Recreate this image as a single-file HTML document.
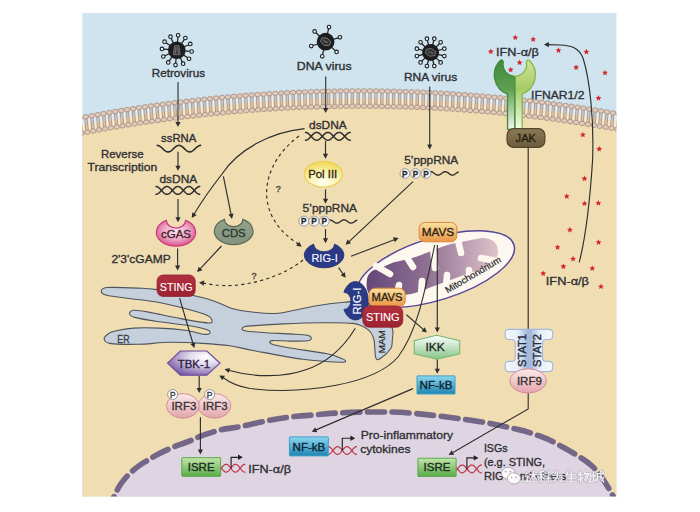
<!DOCTYPE html>
<html><head><meta charset="utf-8"><style>
html,body{margin:0;padding:0;background:#fff;}
svg{display:block;font-family:"Liberation Sans", sans-serif;}
</style></head><body>
<svg width="700" height="512" viewBox="0 0 700 512" font-family="Liberation Sans, sans-serif">
<defs>
<radialGradient id="gCgas" cx="0.5" cy="0.42" r="0.62"><stop offset="0" stop-color="#f9e6ee"/><stop offset="0.55" stop-color="#eda3c2"/><stop offset="1" stop-color="#d4447f"/></radialGradient>
<linearGradient id="gCds" x1="0" y1="0" x2="0" y2="1"><stop offset="0" stop-color="#92a28c"/><stop offset="1" stop-color="#83937e"/></linearGradient>
<radialGradient id="gPol" cx="0.5" cy="0.82" r="0.82"><stop offset="0" stop-color="#fffef4"/><stop offset="0.5" stop-color="#fcf2ae"/><stop offset="1" stop-color="#f0d54c"/></radialGradient>
<linearGradient id="gMavs" x1="0" y1="0" x2="0" y2="1"><stop offset="0" stop-color="#fbe3a0"/><stop offset="1" stop-color="#eb9444"/></linearGradient>
<linearGradient id="gSting" x1="0" y1="0" x2="0" y2="1"><stop offset="0" stop-color="#b3303f"/><stop offset="1" stop-color="#9c2332"/></linearGradient>
<radialGradient id="gTbk" cx="0.72" cy="0.25" r="0.85"><stop offset="0" stop-color="#ffffff"/><stop offset="0.35" stop-color="#e4dcef"/><stop offset="1" stop-color="#7253a3"/></radialGradient>
<linearGradient id="gIrf" x1="0" y1="0" x2="0" y2="1"><stop offset="0" stop-color="#fbeaea"/><stop offset="1" stop-color="#e3a4ac"/></linearGradient>
<linearGradient id="gIsre" x1="0" y1="0" x2="0" y2="1"><stop offset="0" stop-color="#c2e6a8"/><stop offset="1" stop-color="#5aac4a"/></linearGradient>
<linearGradient id="gNfkb" x1="0" y1="0" x2="0" y2="1"><stop offset="0" stop-color="#8cd6f2"/><stop offset="1" stop-color="#1f86b2"/></linearGradient>
<linearGradient id="gIkk" x1="0" y1="0" x2="0" y2="1"><stop offset="0" stop-color="#ffffff"/><stop offset="1" stop-color="#86c488"/></linearGradient>
<linearGradient id="gStat" x1="0" y1="0" x2="1" y2="0"><stop offset="0" stop-color="#f4f8fd"/><stop offset="0.5" stop-color="#9db5da"/><stop offset="1" stop-color="#f4f8fd"/></linearGradient>
<linearGradient id="gJak" x1="0" y1="0" x2="0" y2="1"><stop offset="0" stop-color="#8b7a55"/><stop offset="1" stop-color="#6c5c3c"/></linearGradient>
<linearGradient id="gRecL" x1="0" y1="0" x2="1" y2="1"><stop offset="0" stop-color="#3f8a3c"/><stop offset="1" stop-color="#7eb46a"/></linearGradient>
<linearGradient id="gRecR" x1="0" y1="0" x2="1" y2="1"><stop offset="0" stop-color="#d6e89a"/><stop offset="1" stop-color="#9cc45c"/></linearGradient>
<linearGradient id="gStemL" x1="0" y1="0" x2="0" y2="1"><stop offset="0" stop-color="#4e9648"/><stop offset="1" stop-color="#ffffff"/></linearGradient>
<linearGradient id="gStemR" x1="0" y1="0" x2="0" y2="1"><stop offset="0" stop-color="#a8cc70"/><stop offset="1" stop-color="#ffffff"/></linearGradient>
<linearGradient id="gCris" x1="0" y1="0" x2="1" y2="0"><stop offset="0" stop-color="#654878"/><stop offset="0.45" stop-color="#8f6f92"/><stop offset="1" stop-color="#e0c4cc"/></linearGradient>
</defs>
<rect x="0" y="0" width="700" height="512" fill="#ffffff"/>
<rect x="82.3" y="13" width="534.1" height="483.4" fill="#cfe4ee"/>
<path d="M82.3,496.4 L82.3,125.09 L92.38,123.2 L102.45,121.37 L112.53,119.62 L122.61,117.93 L132.69,116.32 L142.76,114.77 L152.84,113.3 L162.92,111.89 L173,110.56 L183.07,109.29 L193.15,108.1 L203.23,106.97 L213.31,105.92 L223.38,104.94 L233.46,104.02 L243.54,103.18 L253.62,102.4 L263.69,101.7 L273.77,101.06 L283.85,100.5 L293.92,100.01 L304,99.58 L314.08,99.23 L324.16,98.94 L334.23,98.73 L344.31,98.58 L354.39,98.51 L364.47,98.51 L374.54,98.57 L384.62,98.71 L394.7,98.92 L404.78,99.19 L414.85,99.54 L424.93,99.95 L435.01,100.44 L445.08,101 L455.16,101.62 L465.24,102.32 L475.32,103.09 L485.39,103.92 L495.47,104.83 L505.55,105.81 L515.63,106.85 L525.7,107.97 L535.78,109.15 L545.86,110.41 L555.94,111.74 L566.01,113.13 L576.09,114.6 L586.17,116.14 L596.25,117.75 L606.32,119.42 L616.4,121.17 L616.4,496.4 Z" fill="#f0ddb2"/>
<clipPath id="frameClip"><rect x="82.3" y="13" width="534.1" height="483.4"/></clipPath>
<g clip-path="url(#frameClip)">
<line x1="78.79" y1="119.53" x2="80.09" y2="131.86" stroke="#a88f82" stroke-width="0.85"/><line x1="81.07" y1="119.29" x2="82.37" y2="131.62" stroke="#a88f82" stroke-width="0.85"/><line x1="79.93" y1="119.41" x2="81.23" y2="131.74" stroke="#cdb3a8" stroke-opacity="0.7" stroke-width="1.5"/><line x1="82.9" y1="119.29" x2="84.16" y2="131.23" stroke="#ffffff" stroke-opacity="0.45" stroke-width="1.3"/><line x1="84.71" y1="118.39" x2="85.98" y2="130.73" stroke="#a88f82" stroke-width="0.85"/><line x1="86.99" y1="118.15" x2="88.27" y2="130.49" stroke="#a88f82" stroke-width="0.85"/><line x1="85.85" y1="118.27" x2="87.12" y2="130.61" stroke="#cdb3a8" stroke-opacity="0.7" stroke-width="1.5"/><line x1="88.83" y1="118.17" x2="90.06" y2="130.1" stroke="#ffffff" stroke-opacity="0.45" stroke-width="1.3"/><line x1="90.63" y1="117.28" x2="91.88" y2="129.62" stroke="#a88f82" stroke-width="0.85"/><line x1="92.92" y1="117.05" x2="94.16" y2="129.38" stroke="#a88f82" stroke-width="0.85"/><line x1="91.77" y1="117.16" x2="93.02" y2="129.5" stroke="#cdb3a8" stroke-opacity="0.7" stroke-width="1.5"/><line x1="94.75" y1="117.06" x2="95.95" y2="129" stroke="#ffffff" stroke-opacity="0.45" stroke-width="1.3"/><line x1="96.55" y1="116.19" x2="97.77" y2="128.53" stroke="#a88f82" stroke-width="0.85"/><line x1="98.84" y1="115.96" x2="100.06" y2="128.3" stroke="#a88f82" stroke-width="0.85"/><line x1="97.69" y1="116.08" x2="98.91" y2="128.42" stroke="#cdb3a8" stroke-opacity="0.7" stroke-width="1.5"/><line x1="100.67" y1="115.98" x2="101.85" y2="127.93" stroke="#ffffff" stroke-opacity="0.45" stroke-width="1.3"/><line x1="102.47" y1="115.13" x2="103.66" y2="127.47" stroke="#a88f82" stroke-width="0.85"/><line x1="104.76" y1="114.91" x2="105.95" y2="127.25" stroke="#a88f82" stroke-width="0.85"/><line x1="103.61" y1="115.02" x2="104.81" y2="127.36" stroke="#cdb3a8" stroke-opacity="0.7" stroke-width="1.5"/><line x1="106.59" y1="114.93" x2="107.75" y2="126.87" stroke="#ffffff" stroke-opacity="0.45" stroke-width="1.3"/><line x1="108.39" y1="114.09" x2="109.56" y2="126.43" stroke="#a88f82" stroke-width="0.85"/><line x1="110.68" y1="113.87" x2="111.85" y2="126.22" stroke="#a88f82" stroke-width="0.85"/><line x1="109.54" y1="113.98" x2="110.7" y2="126.32" stroke="#cdb3a8" stroke-opacity="0.7" stroke-width="1.5"/><line x1="112.51" y1="113.9" x2="113.64" y2="125.85" stroke="#ffffff" stroke-opacity="0.45" stroke-width="1.3"/><line x1="114.31" y1="113.07" x2="115.45" y2="125.42" stroke="#a88f82" stroke-width="0.85"/><line x1="116.6" y1="112.86" x2="117.74" y2="125.21" stroke="#a88f82" stroke-width="0.85"/><line x1="115.46" y1="112.97" x2="116.6" y2="125.31" stroke="#cdb3a8" stroke-opacity="0.7" stroke-width="1.5"/><line x1="118.43" y1="112.89" x2="119.54" y2="124.84" stroke="#ffffff" stroke-opacity="0.45" stroke-width="1.3"/><line x1="120.23" y1="112.08" x2="121.35" y2="124.43" stroke="#a88f82" stroke-width="0.85"/><line x1="122.52" y1="111.87" x2="123.64" y2="124.22" stroke="#a88f82" stroke-width="0.85"/><line x1="121.38" y1="111.98" x2="122.49" y2="124.33" stroke="#cdb3a8" stroke-opacity="0.7" stroke-width="1.5"/><line x1="124.35" y1="111.91" x2="125.43" y2="123.86" stroke="#ffffff" stroke-opacity="0.45" stroke-width="1.3"/><line x1="126.15" y1="111.11" x2="127.24" y2="123.47" stroke="#a88f82" stroke-width="0.85"/><line x1="128.45" y1="110.91" x2="129.53" y2="123.26" stroke="#a88f82" stroke-width="0.85"/><line x1="127.3" y1="111.01" x2="128.39" y2="123.37" stroke="#cdb3a8" stroke-opacity="0.7" stroke-width="1.5"/><line x1="130.28" y1="110.95" x2="131.33" y2="122.91" stroke="#ffffff" stroke-opacity="0.45" stroke-width="1.3"/><line x1="132.08" y1="110.17" x2="133.13" y2="122.53" stroke="#a88f82" stroke-width="0.85"/><line x1="134.37" y1="109.97" x2="135.43" y2="122.33" stroke="#a88f82" stroke-width="0.85"/><line x1="133.22" y1="110.07" x2="134.28" y2="122.43" stroke="#cdb3a8" stroke-opacity="0.7" stroke-width="1.5"/><line x1="136.2" y1="110.02" x2="137.22" y2="121.97" stroke="#ffffff" stroke-opacity="0.45" stroke-width="1.3"/><line x1="138" y1="109.25" x2="139.03" y2="121.61" stroke="#a88f82" stroke-width="0.85"/><line x1="140.29" y1="109.06" x2="141.32" y2="121.42" stroke="#a88f82" stroke-width="0.85"/><line x1="139.14" y1="109.16" x2="140.17" y2="121.51" stroke="#cdb3a8" stroke-opacity="0.7" stroke-width="1.5"/><line x1="142.12" y1="109.11" x2="143.12" y2="121.07" stroke="#ffffff" stroke-opacity="0.45" stroke-width="1.3"/><line x1="143.92" y1="108.36" x2="144.92" y2="120.72" stroke="#a88f82" stroke-width="0.85"/><line x1="146.21" y1="108.17" x2="147.21" y2="120.53" stroke="#a88f82" stroke-width="0.85"/><line x1="145.06" y1="108.27" x2="146.07" y2="120.62" stroke="#cdb3a8" stroke-opacity="0.7" stroke-width="1.5"/><line x1="148.04" y1="108.22" x2="149.01" y2="120.18" stroke="#ffffff" stroke-opacity="0.45" stroke-width="1.3"/><line x1="149.84" y1="107.49" x2="150.82" y2="119.85" stroke="#a88f82" stroke-width="0.85"/><line x1="152.13" y1="107.31" x2="153.11" y2="119.67" stroke="#a88f82" stroke-width="0.85"/><line x1="150.99" y1="107.4" x2="151.96" y2="119.76" stroke="#cdb3a8" stroke-opacity="0.7" stroke-width="1.5"/><line x1="153.96" y1="107.36" x2="154.91" y2="119.33" stroke="#ffffff" stroke-opacity="0.45" stroke-width="1.3"/><line x1="155.76" y1="106.64" x2="156.71" y2="119.01" stroke="#a88f82" stroke-width="0.85"/><line x1="158.05" y1="106.47" x2="159" y2="118.83" stroke="#a88f82" stroke-width="0.85"/><line x1="156.91" y1="106.55" x2="157.86" y2="118.92" stroke="#cdb3a8" stroke-opacity="0.7" stroke-width="1.5"/><line x1="159.88" y1="106.53" x2="160.8" y2="118.49" stroke="#ffffff" stroke-opacity="0.45" stroke-width="1.3"/><line x1="161.68" y1="105.82" x2="162.6" y2="118.19" stroke="#a88f82" stroke-width="0.85"/><line x1="163.97" y1="105.65" x2="164.9" y2="118.02" stroke="#a88f82" stroke-width="0.85"/><line x1="162.83" y1="105.74" x2="163.75" y2="118.1" stroke="#cdb3a8" stroke-opacity="0.7" stroke-width="1.5"/><line x1="165.8" y1="105.71" x2="166.7" y2="117.68" stroke="#ffffff" stroke-opacity="0.45" stroke-width="1.3"/><line x1="167.6" y1="105.02" x2="168.5" y2="117.39" stroke="#a88f82" stroke-width="0.85"/><line x1="169.9" y1="104.86" x2="170.79" y2="117.23" stroke="#a88f82" stroke-width="0.85"/><line x1="168.75" y1="104.94" x2="169.64" y2="117.31" stroke="#cdb3a8" stroke-opacity="0.7" stroke-width="1.5"/><line x1="171.73" y1="104.93" x2="172.59" y2="116.89" stroke="#ffffff" stroke-opacity="0.45" stroke-width="1.3"/><line x1="173.52" y1="104.25" x2="174.39" y2="116.62" stroke="#a88f82" stroke-width="0.85"/><line x1="175.82" y1="104.09" x2="176.68" y2="116.46" stroke="#a88f82" stroke-width="0.85"/><line x1="174.67" y1="104.17" x2="175.54" y2="116.54" stroke="#cdb3a8" stroke-opacity="0.7" stroke-width="1.5"/><line x1="177.65" y1="104.16" x2="178.49" y2="116.13" stroke="#ffffff" stroke-opacity="0.45" stroke-width="1.3"/><line x1="179.44" y1="103.5" x2="180.28" y2="115.87" stroke="#a88f82" stroke-width="0.85"/><line x1="181.74" y1="103.35" x2="182.58" y2="115.72" stroke="#a88f82" stroke-width="0.85"/><line x1="180.59" y1="103.42" x2="181.43" y2="115.8" stroke="#cdb3a8" stroke-opacity="0.7" stroke-width="1.5"/><line x1="183.57" y1="103.42" x2="184.38" y2="115.39" stroke="#ffffff" stroke-opacity="0.45" stroke-width="1.3"/><line x1="185.36" y1="102.78" x2="186.18" y2="115.15" stroke="#a88f82" stroke-width="0.85"/><line x1="187.66" y1="102.63" x2="188.47" y2="115" stroke="#a88f82" stroke-width="0.85"/><line x1="186.51" y1="102.7" x2="187.32" y2="115.07" stroke="#cdb3a8" stroke-opacity="0.7" stroke-width="1.5"/><line x1="189.49" y1="102.71" x2="190.28" y2="114.68" stroke="#ffffff" stroke-opacity="0.45" stroke-width="1.3"/><line x1="191.29" y1="102.08" x2="192.07" y2="114.45" stroke="#a88f82" stroke-width="0.85"/><line x1="193.58" y1="101.93" x2="194.37" y2="114.31" stroke="#a88f82" stroke-width="0.85"/><line x1="192.43" y1="102" x2="193.22" y2="114.38" stroke="#cdb3a8" stroke-opacity="0.7" stroke-width="1.5"/><line x1="195.41" y1="102.02" x2="196.17" y2="113.99" stroke="#ffffff" stroke-opacity="0.45" stroke-width="1.3"/><line x1="197.21" y1="101.4" x2="197.96" y2="113.78" stroke="#a88f82" stroke-width="0.85"/><line x1="199.5" y1="101.26" x2="200.26" y2="113.64" stroke="#a88f82" stroke-width="0.85"/><line x1="198.35" y1="101.33" x2="199.11" y2="113.71" stroke="#cdb3a8" stroke-opacity="0.7" stroke-width="1.5"/><line x1="201.33" y1="101.35" x2="202.06" y2="113.33" stroke="#ffffff" stroke-opacity="0.45" stroke-width="1.3"/><line x1="203.13" y1="100.75" x2="203.86" y2="113.13" stroke="#a88f82" stroke-width="0.85"/><line x1="205.42" y1="100.61" x2="206.15" y2="112.99" stroke="#a88f82" stroke-width="0.85"/><line x1="204.28" y1="100.68" x2="205.01" y2="113.06" stroke="#cdb3a8" stroke-opacity="0.7" stroke-width="1.5"/><line x1="207.25" y1="100.71" x2="207.96" y2="112.68" stroke="#ffffff" stroke-opacity="0.45" stroke-width="1.3"/><line x1="209.05" y1="100.12" x2="209.75" y2="112.5" stroke="#a88f82" stroke-width="0.85"/><line x1="211.34" y1="99.99" x2="212.05" y2="112.37" stroke="#a88f82" stroke-width="0.85"/><line x1="210.2" y1="100.06" x2="210.9" y2="112.44" stroke="#cdb3a8" stroke-opacity="0.7" stroke-width="1.5"/><line x1="213.17" y1="100.09" x2="213.85" y2="112.07" stroke="#ffffff" stroke-opacity="0.45" stroke-width="1.3"/><line x1="214.97" y1="99.52" x2="215.64" y2="111.9" stroke="#a88f82" stroke-width="0.85"/><line x1="217.27" y1="99.39" x2="217.94" y2="111.77" stroke="#a88f82" stroke-width="0.85"/><line x1="216.12" y1="99.45" x2="216.79" y2="111.84" stroke="#cdb3a8" stroke-opacity="0.7" stroke-width="1.5"/><line x1="219.09" y1="99.49" x2="219.75" y2="111.47" stroke="#ffffff" stroke-opacity="0.45" stroke-width="1.3"/><line x1="220.89" y1="98.94" x2="221.54" y2="111.32" stroke="#a88f82" stroke-width="0.85"/><line x1="223.19" y1="98.82" x2="223.83" y2="111.2" stroke="#a88f82" stroke-width="0.85"/><line x1="222.04" y1="98.88" x2="222.69" y2="111.26" stroke="#cdb3a8" stroke-opacity="0.7" stroke-width="1.5"/><line x1="225.02" y1="98.92" x2="225.64" y2="110.91" stroke="#ffffff" stroke-opacity="0.45" stroke-width="1.3"/><line x1="226.81" y1="98.38" x2="227.43" y2="110.77" stroke="#a88f82" stroke-width="0.85"/><line x1="229.11" y1="98.27" x2="229.73" y2="110.65" stroke="#a88f82" stroke-width="0.85"/><line x1="227.96" y1="98.33" x2="228.58" y2="110.71" stroke="#cdb3a8" stroke-opacity="0.7" stroke-width="1.5"/><line x1="230.94" y1="98.38" x2="231.54" y2="110.36" stroke="#ffffff" stroke-opacity="0.45" stroke-width="1.3"/><line x1="232.73" y1="97.85" x2="233.32" y2="110.24" stroke="#a88f82" stroke-width="0.85"/><line x1="235.03" y1="97.74" x2="235.62" y2="110.13" stroke="#a88f82" stroke-width="0.85"/><line x1="233.88" y1="97.8" x2="234.47" y2="110.18" stroke="#cdb3a8" stroke-opacity="0.7" stroke-width="1.5"/><line x1="236.86" y1="97.85" x2="237.43" y2="109.84" stroke="#ffffff" stroke-opacity="0.45" stroke-width="1.3"/><line x1="238.65" y1="97.35" x2="239.22" y2="109.73" stroke="#a88f82" stroke-width="0.85"/><line x1="240.95" y1="97.24" x2="241.52" y2="109.63" stroke="#a88f82" stroke-width="0.85"/><line x1="239.8" y1="97.29" x2="240.37" y2="109.68" stroke="#cdb3a8" stroke-opacity="0.7" stroke-width="1.5"/><line x1="242.78" y1="97.36" x2="243.32" y2="109.34" stroke="#ffffff" stroke-opacity="0.45" stroke-width="1.3"/><line x1="244.57" y1="96.86" x2="245.11" y2="109.25" stroke="#a88f82" stroke-width="0.85"/><line x1="246.87" y1="96.76" x2="247.41" y2="109.15" stroke="#a88f82" stroke-width="0.85"/><line x1="245.72" y1="96.81" x2="246.26" y2="109.2" stroke="#cdb3a8" stroke-opacity="0.7" stroke-width="1.5"/><line x1="248.7" y1="96.88" x2="249.22" y2="108.87" stroke="#ffffff" stroke-opacity="0.45" stroke-width="1.3"/><line x1="250.5" y1="96.4" x2="251" y2="108.79" stroke="#a88f82" stroke-width="0.85"/><line x1="252.79" y1="96.31" x2="253.3" y2="108.7" stroke="#a88f82" stroke-width="0.85"/><line x1="251.64" y1="96.36" x2="252.15" y2="108.75" stroke="#cdb3a8" stroke-opacity="0.7" stroke-width="1.5"/><line x1="254.62" y1="96.44" x2="255.11" y2="108.43" stroke="#ffffff" stroke-opacity="0.45" stroke-width="1.3"/><line x1="256.42" y1="95.97" x2="256.9" y2="108.36" stroke="#a88f82" stroke-width="0.85"/><line x1="258.71" y1="95.88" x2="259.2" y2="108.27" stroke="#a88f82" stroke-width="0.85"/><line x1="257.57" y1="95.93" x2="258.05" y2="108.32" stroke="#cdb3a8" stroke-opacity="0.7" stroke-width="1.5"/><line x1="260.54" y1="96.01" x2="261.01" y2="108" stroke="#ffffff" stroke-opacity="0.45" stroke-width="1.3"/><line x1="262.34" y1="95.56" x2="262.79" y2="107.95" stroke="#a88f82" stroke-width="0.85"/><line x1="264.64" y1="95.48" x2="265.09" y2="107.87" stroke="#a88f82" stroke-width="0.85"/><line x1="263.49" y1="95.52" x2="263.94" y2="107.91" stroke="#cdb3a8" stroke-opacity="0.7" stroke-width="1.5"/><line x1="266.46" y1="95.61" x2="266.9" y2="107.6" stroke="#ffffff" stroke-opacity="0.45" stroke-width="1.3"/><line x1="268.26" y1="95.18" x2="268.68" y2="107.57" stroke="#a88f82" stroke-width="0.85"/><line x1="270.56" y1="95.1" x2="270.98" y2="107.49" stroke="#a88f82" stroke-width="0.85"/><line x1="269.41" y1="95.14" x2="269.83" y2="107.53" stroke="#cdb3a8" stroke-opacity="0.7" stroke-width="1.5"/><line x1="272.38" y1="95.23" x2="272.79" y2="107.23" stroke="#ffffff" stroke-opacity="0.45" stroke-width="1.3"/><line x1="274.18" y1="94.81" x2="274.58" y2="107.21" stroke="#a88f82" stroke-width="0.85"/><line x1="276.48" y1="94.74" x2="276.88" y2="107.13" stroke="#a88f82" stroke-width="0.85"/><line x1="275.33" y1="94.78" x2="275.73" y2="107.17" stroke="#cdb3a8" stroke-opacity="0.7" stroke-width="1.5"/><line x1="278.3" y1="94.88" x2="278.69" y2="106.88" stroke="#ffffff" stroke-opacity="0.45" stroke-width="1.3"/><line x1="280.1" y1="94.48" x2="280.47" y2="106.87" stroke="#a88f82" stroke-width="0.85"/><line x1="282.4" y1="94.41" x2="282.77" y2="106.8" stroke="#a88f82" stroke-width="0.85"/><line x1="281.25" y1="94.44" x2="281.62" y2="106.84" stroke="#cdb3a8" stroke-opacity="0.7" stroke-width="1.5"/><line x1="284.22" y1="94.55" x2="284.58" y2="106.55" stroke="#ffffff" stroke-opacity="0.45" stroke-width="1.3"/><line x1="286.02" y1="94.16" x2="286.36" y2="106.56" stroke="#a88f82" stroke-width="0.85"/><line x1="288.32" y1="94.1" x2="288.66" y2="106.5" stroke="#a88f82" stroke-width="0.85"/><line x1="287.17" y1="94.13" x2="287.51" y2="106.53" stroke="#cdb3a8" stroke-opacity="0.7" stroke-width="1.5"/><line x1="290.14" y1="94.25" x2="290.48" y2="106.25" stroke="#ffffff" stroke-opacity="0.45" stroke-width="1.3"/><line x1="291.94" y1="93.88" x2="292.26" y2="106.27" stroke="#a88f82" stroke-width="0.85"/><line x1="294.24" y1="93.82" x2="294.56" y2="106.21" stroke="#a88f82" stroke-width="0.85"/><line x1="293.09" y1="93.85" x2="293.41" y2="106.24" stroke="#cdb3a8" stroke-opacity="0.7" stroke-width="1.5"/><line x1="296.07" y1="93.97" x2="296.37" y2="105.97" stroke="#ffffff" stroke-opacity="0.45" stroke-width="1.3"/><line x1="297.86" y1="93.61" x2="298.15" y2="106.01" stroke="#a88f82" stroke-width="0.85"/><line x1="300.16" y1="93.56" x2="300.45" y2="105.96" stroke="#a88f82" stroke-width="0.85"/><line x1="299.01" y1="93.59" x2="299.3" y2="105.98" stroke="#cdb3a8" stroke-opacity="0.7" stroke-width="1.5"/><line x1="301.99" y1="93.72" x2="302.26" y2="105.71" stroke="#ffffff" stroke-opacity="0.45" stroke-width="1.3"/><line x1="303.78" y1="93.37" x2="304.04" y2="105.77" stroke="#a88f82" stroke-width="0.85"/><line x1="306.08" y1="93.32" x2="306.34" y2="105.72" stroke="#a88f82" stroke-width="0.85"/><line x1="304.93" y1="93.35" x2="305.19" y2="105.75" stroke="#cdb3a8" stroke-opacity="0.7" stroke-width="1.5"/><line x1="307.91" y1="93.49" x2="308.16" y2="105.48" stroke="#ffffff" stroke-opacity="0.45" stroke-width="1.3"/><line x1="309.7" y1="93.16" x2="309.94" y2="105.55" stroke="#a88f82" stroke-width="0.85"/><line x1="312" y1="93.11" x2="312.24" y2="105.51" stroke="#a88f82" stroke-width="0.85"/><line x1="310.85" y1="93.13" x2="311.09" y2="105.53" stroke="#cdb3a8" stroke-opacity="0.7" stroke-width="1.5"/><line x1="313.83" y1="93.28" x2="314.05" y2="105.28" stroke="#ffffff" stroke-opacity="0.45" stroke-width="1.3"/><line x1="315.63" y1="92.96" x2="315.83" y2="105.36" stroke="#a88f82" stroke-width="0.85"/><line x1="317.93" y1="92.93" x2="318.13" y2="105.33" stroke="#a88f82" stroke-width="0.85"/><line x1="316.78" y1="92.95" x2="316.98" y2="105.34" stroke="#cdb3a8" stroke-opacity="0.7" stroke-width="1.5"/><line x1="319.75" y1="93.1" x2="319.95" y2="105.1" stroke="#ffffff" stroke-opacity="0.45" stroke-width="1.3"/><line x1="321.55" y1="92.8" x2="321.72" y2="105.2" stroke="#a88f82" stroke-width="0.85"/><line x1="323.85" y1="92.76" x2="324.02" y2="105.16" stroke="#a88f82" stroke-width="0.85"/><line x1="322.7" y1="92.78" x2="322.87" y2="105.18" stroke="#cdb3a8" stroke-opacity="0.7" stroke-width="1.5"/><line x1="325.67" y1="92.94" x2="325.84" y2="104.94" stroke="#ffffff" stroke-opacity="0.45" stroke-width="1.3"/><line x1="327.47" y1="92.65" x2="327.62" y2="105.05" stroke="#a88f82" stroke-width="0.85"/><line x1="329.77" y1="92.63" x2="329.92" y2="105.03" stroke="#a88f82" stroke-width="0.85"/><line x1="328.62" y1="92.64" x2="328.77" y2="105.04" stroke="#cdb3a8" stroke-opacity="0.7" stroke-width="1.5"/><line x1="331.59" y1="92.8" x2="331.73" y2="104.8" stroke="#ffffff" stroke-opacity="0.45" stroke-width="1.3"/><line x1="333.39" y1="92.54" x2="333.51" y2="104.93" stroke="#a88f82" stroke-width="0.85"/><line x1="335.69" y1="92.51" x2="335.81" y2="104.91" stroke="#a88f82" stroke-width="0.85"/><line x1="334.54" y1="92.52" x2="334.66" y2="104.92" stroke="#cdb3a8" stroke-opacity="0.7" stroke-width="1.5"/><line x1="337.51" y1="92.7" x2="337.63" y2="104.69" stroke="#ffffff" stroke-opacity="0.45" stroke-width="1.3"/><line x1="339.31" y1="92.44" x2="339.4" y2="104.84" stroke="#a88f82" stroke-width="0.85"/><line x1="341.61" y1="92.42" x2="341.7" y2="104.82" stroke="#a88f82" stroke-width="0.85"/><line x1="340.46" y1="92.43" x2="340.55" y2="104.83" stroke="#cdb3a8" stroke-opacity="0.7" stroke-width="1.5"/><line x1="343.43" y1="92.61" x2="343.52" y2="104.61" stroke="#ffffff" stroke-opacity="0.45" stroke-width="1.3"/><line x1="345.23" y1="92.37" x2="345.29" y2="104.77" stroke="#a88f82" stroke-width="0.85"/><line x1="347.53" y1="92.36" x2="347.59" y2="104.76" stroke="#a88f82" stroke-width="0.85"/><line x1="346.38" y1="92.36" x2="346.44" y2="104.76" stroke="#cdb3a8" stroke-opacity="0.7" stroke-width="1.5"/><line x1="349.35" y1="92.55" x2="349.41" y2="104.55" stroke="#ffffff" stroke-opacity="0.45" stroke-width="1.3"/><line x1="351.15" y1="92.32" x2="351.19" y2="104.72" stroke="#a88f82" stroke-width="0.85"/><line x1="353.45" y1="92.32" x2="353.49" y2="104.72" stroke="#a88f82" stroke-width="0.85"/><line x1="352.3" y1="92.32" x2="352.34" y2="104.72" stroke="#cdb3a8" stroke-opacity="0.7" stroke-width="1.5"/><line x1="355.27" y1="92.51" x2="355.31" y2="104.51" stroke="#ffffff" stroke-opacity="0.45" stroke-width="1.3"/><line x1="357.07" y1="92.3" x2="357.08" y2="104.7" stroke="#a88f82" stroke-width="0.85"/><line x1="359.37" y1="92.3" x2="359.38" y2="104.7" stroke="#a88f82" stroke-width="0.85"/><line x1="358.22" y1="92.3" x2="358.23" y2="104.7" stroke="#cdb3a8" stroke-opacity="0.7" stroke-width="1.5"/><line x1="361.19" y1="92.5" x2="361.2" y2="104.5" stroke="#ffffff" stroke-opacity="0.45" stroke-width="1.3"/><line x1="362.99" y1="92.3" x2="362.97" y2="104.7" stroke="#a88f82" stroke-width="0.85"/><line x1="365.29" y1="92.31" x2="365.27" y2="104.71" stroke="#a88f82" stroke-width="0.85"/><line x1="364.14" y1="92.31" x2="364.12" y2="104.71" stroke="#cdb3a8" stroke-opacity="0.7" stroke-width="1.5"/><line x1="367.11" y1="92.51" x2="367.09" y2="104.51" stroke="#ffffff" stroke-opacity="0.45" stroke-width="1.3"/><line x1="368.91" y1="92.33" x2="368.87" y2="104.73" stroke="#a88f82" stroke-width="0.85"/><line x1="371.21" y1="92.34" x2="371.17" y2="104.74" stroke="#a88f82" stroke-width="0.85"/><line x1="370.06" y1="92.34" x2="370.02" y2="104.73" stroke="#cdb3a8" stroke-opacity="0.7" stroke-width="1.5"/><line x1="373.03" y1="92.55" x2="372.99" y2="104.55" stroke="#ffffff" stroke-opacity="0.45" stroke-width="1.3"/><line x1="374.84" y1="92.38" x2="374.76" y2="104.78" stroke="#a88f82" stroke-width="0.85"/><line x1="377.14" y1="92.4" x2="377.06" y2="104.8" stroke="#a88f82" stroke-width="0.85"/><line x1="375.99" y1="92.39" x2="375.91" y2="104.79" stroke="#cdb3a8" stroke-opacity="0.7" stroke-width="1.5"/><line x1="378.95" y1="92.61" x2="378.88" y2="104.61" stroke="#ffffff" stroke-opacity="0.45" stroke-width="1.3"/><line x1="380.76" y1="92.46" x2="380.65" y2="104.86" stroke="#a88f82" stroke-width="0.85"/><line x1="383.06" y1="92.48" x2="382.95" y2="104.87" stroke="#a88f82" stroke-width="0.85"/><line x1="381.91" y1="92.47" x2="381.8" y2="104.87" stroke="#cdb3a8" stroke-opacity="0.7" stroke-width="1.5"/><line x1="384.87" y1="92.69" x2="384.78" y2="104.69" stroke="#ffffff" stroke-opacity="0.45" stroke-width="1.3"/><line x1="386.68" y1="92.56" x2="386.55" y2="104.95" stroke="#a88f82" stroke-width="0.85"/><line x1="388.98" y1="92.58" x2="388.85" y2="104.98" stroke="#a88f82" stroke-width="0.85"/><line x1="387.83" y1="92.57" x2="387.7" y2="104.97" stroke="#cdb3a8" stroke-opacity="0.7" stroke-width="1.5"/><line x1="390.8" y1="92.8" x2="390.67" y2="104.8" stroke="#ffffff" stroke-opacity="0.45" stroke-width="1.3"/><line x1="392.6" y1="92.68" x2="392.44" y2="105.08" stroke="#a88f82" stroke-width="0.85"/><line x1="394.9" y1="92.71" x2="394.74" y2="105.11" stroke="#a88f82" stroke-width="0.85"/><line x1="393.75" y1="92.69" x2="393.59" y2="105.09" stroke="#cdb3a8" stroke-opacity="0.7" stroke-width="1.5"/><line x1="396.72" y1="92.93" x2="396.56" y2="104.93" stroke="#ffffff" stroke-opacity="0.45" stroke-width="1.3"/><line x1="398.52" y1="92.83" x2="398.33" y2="105.23" stroke="#a88f82" stroke-width="0.85"/><line x1="400.82" y1="92.86" x2="400.63" y2="105.26" stroke="#a88f82" stroke-width="0.85"/><line x1="399.67" y1="92.84" x2="399.48" y2="105.24" stroke="#cdb3a8" stroke-opacity="0.7" stroke-width="1.5"/><line x1="402.64" y1="93.09" x2="402.46" y2="105.09" stroke="#ffffff" stroke-opacity="0.45" stroke-width="1.3"/><line x1="404.44" y1="93" x2="404.23" y2="105.4" stroke="#a88f82" stroke-width="0.85"/><line x1="406.74" y1="93.04" x2="406.53" y2="105.44" stroke="#a88f82" stroke-width="0.85"/><line x1="405.59" y1="93.02" x2="405.38" y2="105.42" stroke="#cdb3a8" stroke-opacity="0.7" stroke-width="1.5"/><line x1="408.56" y1="93.27" x2="408.35" y2="105.27" stroke="#ffffff" stroke-opacity="0.45" stroke-width="1.3"/><line x1="410.36" y1="93.19" x2="410.12" y2="105.59" stroke="#a88f82" stroke-width="0.85"/><line x1="412.66" y1="93.24" x2="412.42" y2="105.64" stroke="#a88f82" stroke-width="0.85"/><line x1="411.51" y1="93.22" x2="411.27" y2="105.61" stroke="#cdb3a8" stroke-opacity="0.7" stroke-width="1.5"/><line x1="414.48" y1="93.48" x2="414.24" y2="105.47" stroke="#ffffff" stroke-opacity="0.45" stroke-width="1.3"/><line x1="416.28" y1="93.41" x2="416.01" y2="105.81" stroke="#a88f82" stroke-width="0.85"/><line x1="418.58" y1="93.47" x2="418.31" y2="105.86" stroke="#a88f82" stroke-width="0.85"/><line x1="417.43" y1="93.44" x2="417.16" y2="105.84" stroke="#cdb3a8" stroke-opacity="0.7" stroke-width="1.5"/><line x1="420.4" y1="93.7" x2="420.14" y2="105.7" stroke="#ffffff" stroke-opacity="0.45" stroke-width="1.3"/><line x1="422.2" y1="93.66" x2="421.91" y2="106.06" stroke="#a88f82" stroke-width="0.85"/><line x1="424.5" y1="93.71" x2="424.21" y2="106.11" stroke="#a88f82" stroke-width="0.85"/><line x1="423.35" y1="93.69" x2="423.06" y2="106.08" stroke="#cdb3a8" stroke-opacity="0.7" stroke-width="1.5"/><line x1="426.32" y1="93.96" x2="426.03" y2="105.95" stroke="#ffffff" stroke-opacity="0.45" stroke-width="1.3"/><line x1="428.13" y1="93.93" x2="427.8" y2="106.32" stroke="#a88f82" stroke-width="0.85"/><line x1="430.42" y1="93.99" x2="430.1" y2="106.38" stroke="#a88f82" stroke-width="0.85"/><line x1="429.27" y1="93.96" x2="428.95" y2="106.35" stroke="#cdb3a8" stroke-opacity="0.7" stroke-width="1.5"/><line x1="432.24" y1="94.24" x2="431.92" y2="106.23" stroke="#ffffff" stroke-opacity="0.45" stroke-width="1.3"/><line x1="434.05" y1="94.22" x2="433.69" y2="106.62" stroke="#a88f82" stroke-width="0.85"/><line x1="436.35" y1="94.29" x2="435.99" y2="106.68" stroke="#a88f82" stroke-width="0.85"/><line x1="435.2" y1="94.25" x2="434.84" y2="106.65" stroke="#cdb3a8" stroke-opacity="0.7" stroke-width="1.5"/><line x1="438.16" y1="94.54" x2="437.82" y2="106.53" stroke="#ffffff" stroke-opacity="0.45" stroke-width="1.3"/><line x1="439.97" y1="94.54" x2="439.59" y2="106.93" stroke="#a88f82" stroke-width="0.85"/><line x1="442.27" y1="94.61" x2="441.88" y2="107" stroke="#a88f82" stroke-width="0.85"/><line x1="441.12" y1="94.57" x2="440.74" y2="106.97" stroke="#cdb3a8" stroke-opacity="0.7" stroke-width="1.5"/><line x1="444.08" y1="94.87" x2="443.71" y2="106.86" stroke="#ffffff" stroke-opacity="0.45" stroke-width="1.3"/><line x1="445.89" y1="94.88" x2="445.48" y2="107.27" stroke="#a88f82" stroke-width="0.85"/><line x1="448.19" y1="94.96" x2="447.78" y2="107.35" stroke="#a88f82" stroke-width="0.85"/><line x1="447.04" y1="94.92" x2="446.63" y2="107.31" stroke="#cdb3a8" stroke-opacity="0.7" stroke-width="1.5"/><line x1="450" y1="95.22" x2="449.6" y2="107.21" stroke="#ffffff" stroke-opacity="0.45" stroke-width="1.3"/><line x1="451.81" y1="95.25" x2="451.37" y2="107.64" stroke="#a88f82" stroke-width="0.85"/><line x1="454.11" y1="95.33" x2="453.67" y2="107.72" stroke="#a88f82" stroke-width="0.85"/><line x1="452.96" y1="95.29" x2="452.52" y2="107.68" stroke="#cdb3a8" stroke-opacity="0.7" stroke-width="1.5"/><line x1="455.92" y1="95.59" x2="455.5" y2="107.58" stroke="#ffffff" stroke-opacity="0.45" stroke-width="1.3"/><line x1="457.73" y1="95.64" x2="457.27" y2="108.03" stroke="#a88f82" stroke-width="0.85"/><line x1="460.03" y1="95.72" x2="459.56" y2="108.11" stroke="#a88f82" stroke-width="0.85"/><line x1="458.88" y1="95.68" x2="458.42" y2="108.07" stroke="#cdb3a8" stroke-opacity="0.7" stroke-width="1.5"/><line x1="461.84" y1="95.99" x2="461.39" y2="107.98" stroke="#ffffff" stroke-opacity="0.45" stroke-width="1.3"/><line x1="463.65" y1="96.05" x2="463.16" y2="108.44" stroke="#a88f82" stroke-width="0.85"/><line x1="465.95" y1="96.14" x2="465.46" y2="108.53" stroke="#a88f82" stroke-width="0.85"/><line x1="464.8" y1="96.1" x2="464.31" y2="108.49" stroke="#cdb3a8" stroke-opacity="0.7" stroke-width="1.5"/><line x1="467.76" y1="96.41" x2="467.28" y2="108.4" stroke="#ffffff" stroke-opacity="0.45" stroke-width="1.3"/><line x1="469.57" y1="96.49" x2="469.05" y2="108.88" stroke="#a88f82" stroke-width="0.85"/><line x1="471.87" y1="96.58" x2="471.35" y2="108.97" stroke="#a88f82" stroke-width="0.85"/><line x1="470.72" y1="96.54" x2="470.2" y2="108.93" stroke="#cdb3a8" stroke-opacity="0.7" stroke-width="1.5"/><line x1="473.68" y1="96.86" x2="473.18" y2="108.85" stroke="#ffffff" stroke-opacity="0.45" stroke-width="1.3"/><line x1="475.49" y1="96.95" x2="474.95" y2="109.34" stroke="#a88f82" stroke-width="0.85"/><line x1="477.79" y1="97.05" x2="477.24" y2="109.44" stroke="#a88f82" stroke-width="0.85"/><line x1="476.64" y1="97" x2="476.1" y2="109.39" stroke="#cdb3a8" stroke-opacity="0.7" stroke-width="1.5"/><line x1="479.6" y1="97.33" x2="479.07" y2="109.32" stroke="#ffffff" stroke-opacity="0.45" stroke-width="1.3"/><line x1="481.42" y1="97.44" x2="480.84" y2="109.82" stroke="#a88f82" stroke-width="0.85"/><line x1="483.71" y1="97.54" x2="483.14" y2="109.93" stroke="#a88f82" stroke-width="0.85"/><line x1="482.56" y1="97.49" x2="481.99" y2="109.88" stroke="#cdb3a8" stroke-opacity="0.7" stroke-width="1.5"/><line x1="485.52" y1="97.83" x2="484.96" y2="109.82" stroke="#ffffff" stroke-opacity="0.45" stroke-width="1.3"/><line x1="487.34" y1="97.95" x2="486.73" y2="110.33" stroke="#a88f82" stroke-width="0.85"/><line x1="489.63" y1="98.06" x2="489.03" y2="110.45" stroke="#a88f82" stroke-width="0.85"/><line x1="488.49" y1="98.01" x2="487.88" y2="110.39" stroke="#cdb3a8" stroke-opacity="0.7" stroke-width="1.5"/><line x1="491.44" y1="98.35" x2="490.86" y2="110.34" stroke="#ffffff" stroke-opacity="0.45" stroke-width="1.3"/><line x1="493.26" y1="98.48" x2="492.63" y2="110.87" stroke="#a88f82" stroke-width="0.85"/><line x1="495.55" y1="98.6" x2="494.92" y2="110.99" stroke="#a88f82" stroke-width="0.85"/><line x1="494.41" y1="98.54" x2="493.78" y2="110.93" stroke="#cdb3a8" stroke-opacity="0.7" stroke-width="1.5"/><line x1="497.36" y1="98.89" x2="496.75" y2="110.88" stroke="#ffffff" stroke-opacity="0.45" stroke-width="1.3"/><line x1="499.18" y1="99.04" x2="498.52" y2="111.43" stroke="#a88f82" stroke-width="0.85"/><line x1="501.48" y1="99.17" x2="500.82" y2="111.55" stroke="#a88f82" stroke-width="0.85"/><line x1="500.33" y1="99.11" x2="499.67" y2="111.49" stroke="#cdb3a8" stroke-opacity="0.7" stroke-width="1.5"/><line x1="503.28" y1="99.46" x2="502.65" y2="111.45" stroke="#ffffff" stroke-opacity="0.45" stroke-width="1.3"/><line x1="505.1" y1="99.63" x2="504.41" y2="112.01" stroke="#a88f82" stroke-width="0.85"/><line x1="507.4" y1="99.76" x2="506.71" y2="112.14" stroke="#a88f82" stroke-width="0.85"/><line x1="506.25" y1="99.69" x2="505.56" y2="112.07" stroke="#cdb3a8" stroke-opacity="0.7" stroke-width="1.5"/><line x1="509.2" y1="100.06" x2="508.54" y2="112.04" stroke="#ffffff" stroke-opacity="0.45" stroke-width="1.3"/><line x1="511.02" y1="100.24" x2="510.31" y2="112.62" stroke="#a88f82" stroke-width="0.85"/><line x1="513.32" y1="100.37" x2="512.6" y2="112.75" stroke="#a88f82" stroke-width="0.85"/><line x1="512.17" y1="100.3" x2="511.46" y2="112.68" stroke="#cdb3a8" stroke-opacity="0.7" stroke-width="1.5"/><line x1="515.12" y1="100.67" x2="514.43" y2="112.65" stroke="#ffffff" stroke-opacity="0.45" stroke-width="1.3"/><line x1="516.94" y1="100.87" x2="516.2" y2="113.25" stroke="#a88f82" stroke-width="0.85"/><line x1="519.24" y1="101.01" x2="518.5" y2="113.38" stroke="#a88f82" stroke-width="0.85"/><line x1="518.09" y1="100.94" x2="517.35" y2="113.31" stroke="#cdb3a8" stroke-opacity="0.7" stroke-width="1.5"/><line x1="521.04" y1="101.31" x2="520.33" y2="113.29" stroke="#ffffff" stroke-opacity="0.45" stroke-width="1.3"/><line x1="522.86" y1="101.52" x2="522.1" y2="113.9" stroke="#a88f82" stroke-width="0.85"/><line x1="525.16" y1="101.67" x2="524.39" y2="114.04" stroke="#a88f82" stroke-width="0.85"/><line x1="524.01" y1="101.6" x2="523.24" y2="113.97" stroke="#cdb3a8" stroke-opacity="0.7" stroke-width="1.5"/><line x1="526.96" y1="101.98" x2="526.22" y2="113.96" stroke="#ffffff" stroke-opacity="0.45" stroke-width="1.3"/><line x1="528.79" y1="102.21" x2="527.99" y2="114.58" stroke="#a88f82" stroke-width="0.85"/><line x1="531.08" y1="102.35" x2="530.28" y2="114.73" stroke="#a88f82" stroke-width="0.85"/><line x1="529.93" y1="102.28" x2="529.14" y2="114.65" stroke="#cdb3a8" stroke-opacity="0.7" stroke-width="1.5"/><line x1="532.88" y1="102.67" x2="532.11" y2="114.65" stroke="#ffffff" stroke-opacity="0.45" stroke-width="1.3"/><line x1="534.71" y1="102.91" x2="533.88" y2="115.28" stroke="#a88f82" stroke-width="0.85"/><line x1="537" y1="103.06" x2="536.18" y2="115.44" stroke="#a88f82" stroke-width="0.85"/><line x1="535.85" y1="102.99" x2="535.03" y2="115.36" stroke="#cdb3a8" stroke-opacity="0.7" stroke-width="1.5"/><line x1="538.8" y1="103.38" x2="538.01" y2="115.36" stroke="#ffffff" stroke-opacity="0.45" stroke-width="1.3"/><line x1="540.63" y1="103.64" x2="539.78" y2="116.01" stroke="#a88f82" stroke-width="0.85"/><line x1="542.92" y1="103.8" x2="542.07" y2="116.17" stroke="#a88f82" stroke-width="0.85"/><line x1="541.78" y1="103.72" x2="540.92" y2="116.09" stroke="#cdb3a8" stroke-opacity="0.7" stroke-width="1.5"/><line x1="544.72" y1="104.12" x2="543.9" y2="116.09" stroke="#ffffff" stroke-opacity="0.45" stroke-width="1.3"/><line x1="546.55" y1="104.39" x2="545.67" y2="116.76" stroke="#a88f82" stroke-width="0.85"/><line x1="548.84" y1="104.56" x2="547.97" y2="116.93" stroke="#a88f82" stroke-width="0.85"/><line x1="547.7" y1="104.47" x2="546.82" y2="116.84" stroke="#cdb3a8" stroke-opacity="0.7" stroke-width="1.5"/><line x1="550.64" y1="104.88" x2="549.79" y2="116.85" stroke="#ffffff" stroke-opacity="0.45" stroke-width="1.3"/><line x1="552.47" y1="105.17" x2="551.57" y2="117.54" stroke="#a88f82" stroke-width="0.85"/><line x1="554.76" y1="105.34" x2="553.86" y2="117.71" stroke="#a88f82" stroke-width="0.85"/><line x1="553.62" y1="105.26" x2="552.71" y2="117.62" stroke="#cdb3a8" stroke-opacity="0.7" stroke-width="1.5"/><line x1="556.57" y1="105.67" x2="555.69" y2="117.64" stroke="#ffffff" stroke-opacity="0.45" stroke-width="1.3"/><line x1="558.39" y1="105.97" x2="557.46" y2="118.34" stroke="#a88f82" stroke-width="0.85"/><line x1="560.69" y1="106.15" x2="559.75" y2="118.51" stroke="#a88f82" stroke-width="0.85"/><line x1="559.54" y1="106.06" x2="558.61" y2="118.42" stroke="#cdb3a8" stroke-opacity="0.7" stroke-width="1.5"/><line x1="562.49" y1="106.48" x2="561.58" y2="118.45" stroke="#ffffff" stroke-opacity="0.45" stroke-width="1.3"/><line x1="564.31" y1="106.8" x2="563.35" y2="119.16" stroke="#a88f82" stroke-width="0.85"/><line x1="566.61" y1="106.98" x2="565.65" y2="119.34" stroke="#a88f82" stroke-width="0.85"/><line x1="565.46" y1="106.89" x2="564.5" y2="119.25" stroke="#cdb3a8" stroke-opacity="0.7" stroke-width="1.5"/><line x1="568.41" y1="107.32" x2="567.48" y2="119.28" stroke="#ffffff" stroke-opacity="0.45" stroke-width="1.3"/><line x1="570.24" y1="107.65" x2="569.25" y2="120.01" stroke="#a88f82" stroke-width="0.85"/><line x1="572.53" y1="107.83" x2="571.54" y2="120.19" stroke="#a88f82" stroke-width="0.85"/><line x1="571.38" y1="107.74" x2="570.39" y2="120.1" stroke="#cdb3a8" stroke-opacity="0.7" stroke-width="1.5"/><line x1="574.33" y1="108.18" x2="573.37" y2="120.14" stroke="#ffffff" stroke-opacity="0.45" stroke-width="1.3"/><line x1="576.16" y1="108.52" x2="575.14" y2="120.88" stroke="#a88f82" stroke-width="0.85"/><line x1="578.45" y1="108.71" x2="577.43" y2="121.07" stroke="#a88f82" stroke-width="0.85"/><line x1="577.3" y1="108.62" x2="576.29" y2="120.98" stroke="#cdb3a8" stroke-opacity="0.7" stroke-width="1.5"/><line x1="580.25" y1="109.06" x2="579.26" y2="121.02" stroke="#ffffff" stroke-opacity="0.45" stroke-width="1.3"/><line x1="582.08" y1="109.42" x2="581.04" y2="121.78" stroke="#a88f82" stroke-width="0.85"/><line x1="584.37" y1="109.62" x2="583.33" y2="121.97" stroke="#a88f82" stroke-width="0.85"/><line x1="583.22" y1="109.52" x2="582.18" y2="121.88" stroke="#cdb3a8" stroke-opacity="0.7" stroke-width="1.5"/><line x1="586.17" y1="109.97" x2="585.16" y2="121.93" stroke="#ffffff" stroke-opacity="0.45" stroke-width="1.3"/><line x1="588" y1="110.35" x2="586.93" y2="122.7" stroke="#a88f82" stroke-width="0.85"/><line x1="590.29" y1="110.54" x2="589.22" y2="122.9" stroke="#a88f82" stroke-width="0.85"/><line x1="589.15" y1="110.45" x2="588.08" y2="122.8" stroke="#cdb3a8" stroke-opacity="0.7" stroke-width="1.5"/><line x1="592.09" y1="110.9" x2="591.05" y2="122.86" stroke="#ffffff" stroke-opacity="0.45" stroke-width="1.3"/><line x1="593.92" y1="111.29" x2="592.82" y2="123.65" stroke="#a88f82" stroke-width="0.85"/><line x1="596.21" y1="111.5" x2="595.12" y2="123.85" stroke="#a88f82" stroke-width="0.85"/><line x1="595.07" y1="111.4" x2="593.97" y2="123.75" stroke="#cdb3a8" stroke-opacity="0.7" stroke-width="1.5"/><line x1="598.01" y1="111.86" x2="596.95" y2="123.81" stroke="#ffffff" stroke-opacity="0.45" stroke-width="1.3"/><line x1="599.84" y1="112.27" x2="598.72" y2="124.61" stroke="#a88f82" stroke-width="0.85"/><line x1="602.13" y1="112.47" x2="601.01" y2="124.82" stroke="#a88f82" stroke-width="0.85"/><line x1="600.99" y1="112.37" x2="599.86" y2="124.72" stroke="#cdb3a8" stroke-opacity="0.7" stroke-width="1.5"/><line x1="603.93" y1="112.84" x2="602.84" y2="124.79" stroke="#ffffff" stroke-opacity="0.45" stroke-width="1.3"/><line x1="605.76" y1="113.26" x2="604.61" y2="125.61" stroke="#a88f82" stroke-width="0.85"/><line x1="608.05" y1="113.47" x2="606.9" y2="125.82" stroke="#a88f82" stroke-width="0.85"/><line x1="606.91" y1="113.37" x2="605.76" y2="125.71" stroke="#cdb3a8" stroke-opacity="0.7" stroke-width="1.5"/><line x1="609.85" y1="113.84" x2="608.73" y2="125.79" stroke="#ffffff" stroke-opacity="0.45" stroke-width="1.3"/><line x1="611.69" y1="114.28" x2="610.51" y2="126.63" stroke="#a88f82" stroke-width="0.85"/><line x1="613.98" y1="114.5" x2="612.8" y2="126.84" stroke="#a88f82" stroke-width="0.85"/><line x1="612.83" y1="114.39" x2="611.65" y2="126.73" stroke="#cdb3a8" stroke-opacity="0.7" stroke-width="1.5"/><line x1="615.77" y1="114.87" x2="614.63" y2="126.82" stroke="#ffffff" stroke-opacity="0.45" stroke-width="1.3"/><line x1="617.61" y1="115.33" x2="616.4" y2="127.67" stroke="#a88f82" stroke-width="0.85"/><line x1="619.9" y1="115.55" x2="618.69" y2="127.89" stroke="#a88f82" stroke-width="0.85"/><line x1="618.75" y1="115.44" x2="617.55" y2="127.78" stroke="#cdb3a8" stroke-opacity="0.7" stroke-width="1.5"/><line x1="621.69" y1="115.92" x2="620.52" y2="127.87" stroke="#ffffff" stroke-opacity="0.45" stroke-width="1.3"/>
<ellipse cx="79.78" cy="118.01" rx="2.75" ry="2.25" fill="#e2cabb" stroke="#a68b7d" stroke-width="0.8" transform="rotate(-6.02 79.78 118.01)"/><ellipse cx="81.39" cy="133.23" rx="2.75" ry="2.25" fill="#e2cabb" stroke="#a68b7d" stroke-width="0.8" transform="rotate(-6.02 81.39 133.23)"/><ellipse cx="85.71" cy="116.88" rx="2.75" ry="2.25" fill="#e2cabb" stroke="#a68b7d" stroke-width="0.8" transform="rotate(-5.9 85.71 116.88)"/><ellipse cx="87.28" cy="132.1" rx="2.75" ry="2.25" fill="#e2cabb" stroke="#a68b7d" stroke-width="0.8" transform="rotate(-5.9 87.28 132.1)"/><ellipse cx="91.63" cy="115.77" rx="2.75" ry="2.25" fill="#e2cabb" stroke="#a68b7d" stroke-width="0.8" transform="rotate(-5.77 91.63 115.77)"/><ellipse cx="93.17" cy="130.99" rx="2.75" ry="2.25" fill="#e2cabb" stroke="#a68b7d" stroke-width="0.8" transform="rotate(-5.77 93.17 130.99)"/><ellipse cx="97.56" cy="114.68" rx="2.75" ry="2.25" fill="#e2cabb" stroke="#a68b7d" stroke-width="0.8" transform="rotate(-5.65 97.56 114.68)"/><ellipse cx="99.06" cy="129.91" rx="2.75" ry="2.25" fill="#e2cabb" stroke="#a68b7d" stroke-width="0.8" transform="rotate(-5.65 99.06 129.91)"/><ellipse cx="103.48" cy="113.62" rx="2.75" ry="2.25" fill="#e2cabb" stroke="#a68b7d" stroke-width="0.8" transform="rotate(-5.52 103.48 113.62)"/><ellipse cx="104.95" cy="128.85" rx="2.75" ry="2.25" fill="#e2cabb" stroke="#a68b7d" stroke-width="0.8" transform="rotate(-5.52 104.95 128.85)"/><ellipse cx="109.4" cy="112.59" rx="2.75" ry="2.25" fill="#e2cabb" stroke="#a68b7d" stroke-width="0.8" transform="rotate(-5.4 109.4 112.59)"/><ellipse cx="110.84" cy="127.82" rx="2.75" ry="2.25" fill="#e2cabb" stroke="#a68b7d" stroke-width="0.8" transform="rotate(-5.4 110.84 127.82)"/><ellipse cx="115.33" cy="111.57" rx="2.75" ry="2.25" fill="#e2cabb" stroke="#a68b7d" stroke-width="0.8" transform="rotate(-5.27 115.33 111.57)"/><ellipse cx="116.73" cy="126.81" rx="2.75" ry="2.25" fill="#e2cabb" stroke="#a68b7d" stroke-width="0.8" transform="rotate(-5.27 116.73 126.81)"/><ellipse cx="121.25" cy="110.58" rx="2.75" ry="2.25" fill="#e2cabb" stroke="#a68b7d" stroke-width="0.8" transform="rotate(-5.15 121.25 110.58)"/><ellipse cx="122.63" cy="125.82" rx="2.75" ry="2.25" fill="#e2cabb" stroke="#a68b7d" stroke-width="0.8" transform="rotate(-5.15 122.63 125.82)"/><ellipse cx="127.18" cy="109.62" rx="2.75" ry="2.25" fill="#e2cabb" stroke="#a68b7d" stroke-width="0.8" transform="rotate(-5.02 127.18 109.62)"/><ellipse cx="128.52" cy="124.86" rx="2.75" ry="2.25" fill="#e2cabb" stroke="#a68b7d" stroke-width="0.8" transform="rotate(-5.02 128.52 124.86)"/><ellipse cx="133.1" cy="108.68" rx="2.75" ry="2.25" fill="#e2cabb" stroke="#a68b7d" stroke-width="0.8" transform="rotate(-4.9 133.1 108.68)"/><ellipse cx="134.41" cy="123.92" rx="2.75" ry="2.25" fill="#e2cabb" stroke="#a68b7d" stroke-width="0.8" transform="rotate(-4.9 134.41 123.92)"/><ellipse cx="139.03" cy="107.76" rx="2.75" ry="2.25" fill="#e2cabb" stroke="#a68b7d" stroke-width="0.8" transform="rotate(-4.77 139.03 107.76)"/><ellipse cx="140.3" cy="123.01" rx="2.75" ry="2.25" fill="#e2cabb" stroke="#a68b7d" stroke-width="0.8" transform="rotate(-4.77 140.3 123.01)"/><ellipse cx="144.95" cy="106.87" rx="2.75" ry="2.25" fill="#e2cabb" stroke="#a68b7d" stroke-width="0.8" transform="rotate(-4.64 144.95 106.87)"/><ellipse cx="146.19" cy="122.12" rx="2.75" ry="2.25" fill="#e2cabb" stroke="#a68b7d" stroke-width="0.8" transform="rotate(-4.64 146.19 122.12)"/><ellipse cx="150.87" cy="106" rx="2.75" ry="2.25" fill="#e2cabb" stroke="#a68b7d" stroke-width="0.8" transform="rotate(-4.52 150.87 106)"/><ellipse cx="152.08" cy="121.25" rx="2.75" ry="2.25" fill="#e2cabb" stroke="#a68b7d" stroke-width="0.8" transform="rotate(-4.52 152.08 121.25)"/><ellipse cx="156.8" cy="105.16" rx="2.75" ry="2.25" fill="#e2cabb" stroke="#a68b7d" stroke-width="0.8" transform="rotate(-4.39 156.8 105.16)"/><ellipse cx="157.97" cy="120.41" rx="2.75" ry="2.25" fill="#e2cabb" stroke="#a68b7d" stroke-width="0.8" transform="rotate(-4.39 157.97 120.41)"/><ellipse cx="162.72" cy="104.34" rx="2.75" ry="2.25" fill="#e2cabb" stroke="#a68b7d" stroke-width="0.8" transform="rotate(-4.27 162.72 104.34)"/><ellipse cx="163.86" cy="119.6" rx="2.75" ry="2.25" fill="#e2cabb" stroke="#a68b7d" stroke-width="0.8" transform="rotate(-4.27 163.86 119.6)"/><ellipse cx="168.65" cy="103.54" rx="2.75" ry="2.25" fill="#e2cabb" stroke="#a68b7d" stroke-width="0.8" transform="rotate(-4.14 168.65 103.54)"/><ellipse cx="169.75" cy="118.8" rx="2.75" ry="2.25" fill="#e2cabb" stroke="#a68b7d" stroke-width="0.8" transform="rotate(-4.14 169.75 118.8)"/><ellipse cx="174.57" cy="102.77" rx="2.75" ry="2.25" fill="#e2cabb" stroke="#a68b7d" stroke-width="0.8" transform="rotate(-4.01 174.57 102.77)"/><ellipse cx="175.64" cy="118.04" rx="2.75" ry="2.25" fill="#e2cabb" stroke="#a68b7d" stroke-width="0.8" transform="rotate(-4.01 175.64 118.04)"/><ellipse cx="180.5" cy="102.03" rx="2.75" ry="2.25" fill="#e2cabb" stroke="#a68b7d" stroke-width="0.8" transform="rotate(-3.89 180.5 102.03)"/><ellipse cx="181.53" cy="117.29" rx="2.75" ry="2.25" fill="#e2cabb" stroke="#a68b7d" stroke-width="0.8" transform="rotate(-3.89 181.53 117.29)"/><ellipse cx="186.42" cy="101.3" rx="2.75" ry="2.25" fill="#e2cabb" stroke="#a68b7d" stroke-width="0.8" transform="rotate(-3.76 186.42 101.3)"/><ellipse cx="187.42" cy="116.57" rx="2.75" ry="2.25" fill="#e2cabb" stroke="#a68b7d" stroke-width="0.8" transform="rotate(-3.76 187.42 116.57)"/><ellipse cx="192.34" cy="100.61" rx="2.75" ry="2.25" fill="#e2cabb" stroke="#a68b7d" stroke-width="0.8" transform="rotate(-3.63 192.34 100.61)"/><ellipse cx="193.31" cy="115.88" rx="2.75" ry="2.25" fill="#e2cabb" stroke="#a68b7d" stroke-width="0.8" transform="rotate(-3.63 193.31 115.88)"/><ellipse cx="198.27" cy="99.93" rx="2.75" ry="2.25" fill="#e2cabb" stroke="#a68b7d" stroke-width="0.8" transform="rotate(-3.5 198.27 99.93)"/><ellipse cx="199.2" cy="115.2" rx="2.75" ry="2.25" fill="#e2cabb" stroke="#a68b7d" stroke-width="0.8" transform="rotate(-3.5 199.2 115.2)"/><ellipse cx="204.19" cy="99.28" rx="2.75" ry="2.25" fill="#e2cabb" stroke="#a68b7d" stroke-width="0.8" transform="rotate(-3.38 204.19 99.28)"/><ellipse cx="205.09" cy="114.56" rx="2.75" ry="2.25" fill="#e2cabb" stroke="#a68b7d" stroke-width="0.8" transform="rotate(-3.38 205.09 114.56)"/><ellipse cx="210.12" cy="98.66" rx="2.75" ry="2.25" fill="#e2cabb" stroke="#a68b7d" stroke-width="0.8" transform="rotate(-3.25 210.12 98.66)"/><ellipse cx="210.98" cy="113.93" rx="2.75" ry="2.25" fill="#e2cabb" stroke="#a68b7d" stroke-width="0.8" transform="rotate(-3.25 210.98 113.93)"/><ellipse cx="216.04" cy="98.06" rx="2.75" ry="2.25" fill="#e2cabb" stroke="#a68b7d" stroke-width="0.8" transform="rotate(-3.12 216.04 98.06)"/><ellipse cx="216.87" cy="113.33" rx="2.75" ry="2.25" fill="#e2cabb" stroke="#a68b7d" stroke-width="0.8" transform="rotate(-3.12 216.87 113.33)"/><ellipse cx="221.97" cy="97.48" rx="2.75" ry="2.25" fill="#e2cabb" stroke="#a68b7d" stroke-width="0.8" transform="rotate(-2.99 221.97 97.48)"/><ellipse cx="222.76" cy="112.76" rx="2.75" ry="2.25" fill="#e2cabb" stroke="#a68b7d" stroke-width="0.8" transform="rotate(-2.99 222.76 112.76)"/><ellipse cx="227.89" cy="96.93" rx="2.75" ry="2.25" fill="#e2cabb" stroke="#a68b7d" stroke-width="0.8" transform="rotate(-2.87 227.89 96.93)"/><ellipse cx="228.66" cy="112.21" rx="2.75" ry="2.25" fill="#e2cabb" stroke="#a68b7d" stroke-width="0.8" transform="rotate(-2.87 228.66 112.21)"/><ellipse cx="233.81" cy="96.4" rx="2.75" ry="2.25" fill="#e2cabb" stroke="#a68b7d" stroke-width="0.8" transform="rotate(-2.74 233.81 96.4)"/><ellipse cx="234.55" cy="111.68" rx="2.75" ry="2.25" fill="#e2cabb" stroke="#a68b7d" stroke-width="0.8" transform="rotate(-2.74 234.55 111.68)"/><ellipse cx="239.74" cy="95.89" rx="2.75" ry="2.25" fill="#e2cabb" stroke="#a68b7d" stroke-width="0.8" transform="rotate(-2.61 239.74 95.89)"/><ellipse cx="240.44" cy="111.18" rx="2.75" ry="2.25" fill="#e2cabb" stroke="#a68b7d" stroke-width="0.8" transform="rotate(-2.61 240.44 111.18)"/><ellipse cx="245.66" cy="95.41" rx="2.75" ry="2.25" fill="#e2cabb" stroke="#a68b7d" stroke-width="0.8" transform="rotate(-2.48 245.66 95.41)"/><ellipse cx="246.33" cy="110.7" rx="2.75" ry="2.25" fill="#e2cabb" stroke="#a68b7d" stroke-width="0.8" transform="rotate(-2.48 246.33 110.7)"/><ellipse cx="251.59" cy="94.96" rx="2.75" ry="2.25" fill="#e2cabb" stroke="#a68b7d" stroke-width="0.8" transform="rotate(-2.35 251.59 94.96)"/><ellipse cx="252.22" cy="110.25" rx="2.75" ry="2.25" fill="#e2cabb" stroke="#a68b7d" stroke-width="0.8" transform="rotate(-2.35 252.22 110.25)"/><ellipse cx="257.51" cy="94.53" rx="2.75" ry="2.25" fill="#e2cabb" stroke="#a68b7d" stroke-width="0.8" transform="rotate(-2.23 257.51 94.53)"/><ellipse cx="258.11" cy="109.82" rx="2.75" ry="2.25" fill="#e2cabb" stroke="#a68b7d" stroke-width="0.8" transform="rotate(-2.23 258.11 109.82)"/><ellipse cx="263.44" cy="94.12" rx="2.75" ry="2.25" fill="#e2cabb" stroke="#a68b7d" stroke-width="0.8" transform="rotate(-2.1 263.44 94.12)"/><ellipse cx="264" cy="109.41" rx="2.75" ry="2.25" fill="#e2cabb" stroke="#a68b7d" stroke-width="0.8" transform="rotate(-2.1 264 109.41)"/><ellipse cx="269.36" cy="93.74" rx="2.75" ry="2.25" fill="#e2cabb" stroke="#a68b7d" stroke-width="0.8" transform="rotate(-1.97 269.36 93.74)"/><ellipse cx="269.89" cy="109.03" rx="2.75" ry="2.25" fill="#e2cabb" stroke="#a68b7d" stroke-width="0.8" transform="rotate(-1.97 269.89 109.03)"/><ellipse cx="275.28" cy="93.38" rx="2.75" ry="2.25" fill="#e2cabb" stroke="#a68b7d" stroke-width="0.8" transform="rotate(-1.84 275.28 93.38)"/><ellipse cx="275.78" cy="108.67" rx="2.75" ry="2.25" fill="#e2cabb" stroke="#a68b7d" stroke-width="0.8" transform="rotate(-1.84 275.78 108.67)"/><ellipse cx="281.21" cy="93.04" rx="2.75" ry="2.25" fill="#e2cabb" stroke="#a68b7d" stroke-width="0.8" transform="rotate(-1.71 281.21 93.04)"/><ellipse cx="281.66" cy="108.34" rx="2.75" ry="2.25" fill="#e2cabb" stroke="#a68b7d" stroke-width="0.8" transform="rotate(-1.71 281.66 108.34)"/><ellipse cx="287.13" cy="92.73" rx="2.75" ry="2.25" fill="#e2cabb" stroke="#a68b7d" stroke-width="0.8" transform="rotate(-1.58 287.13 92.73)"/><ellipse cx="287.55" cy="108.03" rx="2.75" ry="2.25" fill="#e2cabb" stroke="#a68b7d" stroke-width="0.8" transform="rotate(-1.58 287.55 108.03)"/><ellipse cx="293.06" cy="92.45" rx="2.75" ry="2.25" fill="#e2cabb" stroke="#a68b7d" stroke-width="0.8" transform="rotate(-1.46 293.06 92.45)"/><ellipse cx="293.44" cy="107.74" rx="2.75" ry="2.25" fill="#e2cabb" stroke="#a68b7d" stroke-width="0.8" transform="rotate(-1.46 293.44 107.74)"/><ellipse cx="298.98" cy="92.19" rx="2.75" ry="2.25" fill="#e2cabb" stroke="#a68b7d" stroke-width="0.8" transform="rotate(-1.33 298.98 92.19)"/><ellipse cx="299.33" cy="107.48" rx="2.75" ry="2.25" fill="#e2cabb" stroke="#a68b7d" stroke-width="0.8" transform="rotate(-1.33 299.33 107.48)"/><ellipse cx="304.9" cy="91.95" rx="2.75" ry="2.25" fill="#e2cabb" stroke="#a68b7d" stroke-width="0.8" transform="rotate(-1.2 304.9 91.95)"/><ellipse cx="305.22" cy="107.24" rx="2.75" ry="2.25" fill="#e2cabb" stroke="#a68b7d" stroke-width="0.8" transform="rotate(-1.2 305.22 107.24)"/><ellipse cx="310.83" cy="91.73" rx="2.75" ry="2.25" fill="#e2cabb" stroke="#a68b7d" stroke-width="0.8" transform="rotate(-1.07 310.83 91.73)"/><ellipse cx="311.11" cy="107.03" rx="2.75" ry="2.25" fill="#e2cabb" stroke="#a68b7d" stroke-width="0.8" transform="rotate(-1.07 311.11 107.03)"/><ellipse cx="316.75" cy="91.55" rx="2.75" ry="2.25" fill="#e2cabb" stroke="#a68b7d" stroke-width="0.8" transform="rotate(-0.94 316.75 91.55)"/><ellipse cx="317" cy="106.84" rx="2.75" ry="2.25" fill="#e2cabb" stroke="#a68b7d" stroke-width="0.8" transform="rotate(-0.94 317 106.84)"/><ellipse cx="322.68" cy="91.38" rx="2.75" ry="2.25" fill="#e2cabb" stroke="#a68b7d" stroke-width="0.8" transform="rotate(-0.81 322.68 91.38)"/><ellipse cx="322.89" cy="106.68" rx="2.75" ry="2.25" fill="#e2cabb" stroke="#a68b7d" stroke-width="0.8" transform="rotate(-0.81 322.89 106.68)"/><ellipse cx="328.6" cy="91.24" rx="2.75" ry="2.25" fill="#e2cabb" stroke="#a68b7d" stroke-width="0.8" transform="rotate(-0.68 328.6 91.24)"/><ellipse cx="328.78" cy="106.54" rx="2.75" ry="2.25" fill="#e2cabb" stroke="#a68b7d" stroke-width="0.8" transform="rotate(-0.68 328.78 106.54)"/><ellipse cx="334.53" cy="91.12" rx="2.75" ry="2.25" fill="#e2cabb" stroke="#a68b7d" stroke-width="0.8" transform="rotate(-0.55 334.53 91.12)"/><ellipse cx="334.67" cy="106.42" rx="2.75" ry="2.25" fill="#e2cabb" stroke="#a68b7d" stroke-width="0.8" transform="rotate(-0.55 334.67 106.42)"/><ellipse cx="340.45" cy="91.03" rx="2.75" ry="2.25" fill="#e2cabb" stroke="#a68b7d" stroke-width="0.8" transform="rotate(-0.43 340.45 91.03)"/><ellipse cx="340.56" cy="106.33" rx="2.75" ry="2.25" fill="#e2cabb" stroke="#a68b7d" stroke-width="0.8" transform="rotate(-0.43 340.56 106.33)"/><ellipse cx="346.37" cy="90.96" rx="2.75" ry="2.25" fill="#e2cabb" stroke="#a68b7d" stroke-width="0.8" transform="rotate(-0.3 346.37 90.96)"/><ellipse cx="346.45" cy="106.26" rx="2.75" ry="2.25" fill="#e2cabb" stroke="#a68b7d" stroke-width="0.8" transform="rotate(-0.3 346.45 106.26)"/><ellipse cx="352.3" cy="90.92" rx="2.75" ry="2.25" fill="#e2cabb" stroke="#a68b7d" stroke-width="0.8" transform="rotate(-0.17 352.3 90.92)"/><ellipse cx="352.34" cy="106.22" rx="2.75" ry="2.25" fill="#e2cabb" stroke="#a68b7d" stroke-width="0.8" transform="rotate(-0.17 352.34 106.22)"/><ellipse cx="358.22" cy="90.9" rx="2.75" ry="2.25" fill="#e2cabb" stroke="#a68b7d" stroke-width="0.8" transform="rotate(-0.04 358.22 90.9)"/><ellipse cx="358.23" cy="106.2" rx="2.75" ry="2.25" fill="#e2cabb" stroke="#a68b7d" stroke-width="0.8" transform="rotate(-0.04 358.23 106.2)"/><ellipse cx="364.15" cy="90.91" rx="2.75" ry="2.25" fill="#e2cabb" stroke="#a68b7d" stroke-width="0.8" transform="rotate(0.09 364.15 90.91)"/><ellipse cx="364.12" cy="106.21" rx="2.75" ry="2.25" fill="#e2cabb" stroke="#a68b7d" stroke-width="0.8" transform="rotate(0.09 364.12 106.21)"/><ellipse cx="370.07" cy="90.94" rx="2.75" ry="2.25" fill="#e2cabb" stroke="#a68b7d" stroke-width="0.8" transform="rotate(0.22 370.07 90.94)"/><ellipse cx="370.01" cy="106.23" rx="2.75" ry="2.25" fill="#e2cabb" stroke="#a68b7d" stroke-width="0.8" transform="rotate(0.22 370.01 106.23)"/><ellipse cx="375.99" cy="90.99" rx="2.75" ry="2.25" fill="#e2cabb" stroke="#a68b7d" stroke-width="0.8" transform="rotate(0.35 375.99 90.99)"/><ellipse cx="375.9" cy="106.29" rx="2.75" ry="2.25" fill="#e2cabb" stroke="#a68b7d" stroke-width="0.8" transform="rotate(0.35 375.9 106.29)"/><ellipse cx="381.92" cy="91.07" rx="2.75" ry="2.25" fill="#e2cabb" stroke="#a68b7d" stroke-width="0.8" transform="rotate(0.48 381.92 91.07)"/><ellipse cx="381.79" cy="106.37" rx="2.75" ry="2.25" fill="#e2cabb" stroke="#a68b7d" stroke-width="0.8" transform="rotate(0.48 381.79 106.37)"/><ellipse cx="387.84" cy="91.17" rx="2.75" ry="2.25" fill="#e2cabb" stroke="#a68b7d" stroke-width="0.8" transform="rotate(0.61 387.84 91.17)"/><ellipse cx="387.68" cy="106.47" rx="2.75" ry="2.25" fill="#e2cabb" stroke="#a68b7d" stroke-width="0.8" transform="rotate(0.61 387.68 106.47)"/><ellipse cx="393.77" cy="91.29" rx="2.75" ry="2.25" fill="#e2cabb" stroke="#a68b7d" stroke-width="0.8" transform="rotate(0.73 393.77 91.29)"/><ellipse cx="393.57" cy="106.59" rx="2.75" ry="2.25" fill="#e2cabb" stroke="#a68b7d" stroke-width="0.8" transform="rotate(0.73 393.57 106.59)"/><ellipse cx="399.69" cy="91.44" rx="2.75" ry="2.25" fill="#e2cabb" stroke="#a68b7d" stroke-width="0.8" transform="rotate(0.86 399.69 91.44)"/><ellipse cx="399.46" cy="106.74" rx="2.75" ry="2.25" fill="#e2cabb" stroke="#a68b7d" stroke-width="0.8" transform="rotate(0.86 399.46 106.74)"/><ellipse cx="405.61" cy="91.62" rx="2.75" ry="2.25" fill="#e2cabb" stroke="#a68b7d" stroke-width="0.8" transform="rotate(0.99 405.61 91.62)"/><ellipse cx="405.35" cy="106.92" rx="2.75" ry="2.25" fill="#e2cabb" stroke="#a68b7d" stroke-width="0.8" transform="rotate(0.99 405.35 106.92)"/><ellipse cx="411.54" cy="91.82" rx="2.75" ry="2.25" fill="#e2cabb" stroke="#a68b7d" stroke-width="0.8" transform="rotate(1.12 411.54 91.82)"/><ellipse cx="411.24" cy="107.11" rx="2.75" ry="2.25" fill="#e2cabb" stroke="#a68b7d" stroke-width="0.8" transform="rotate(1.12 411.24 107.11)"/><ellipse cx="417.46" cy="92.04" rx="2.75" ry="2.25" fill="#e2cabb" stroke="#a68b7d" stroke-width="0.8" transform="rotate(1.25 417.46 92.04)"/><ellipse cx="417.13" cy="107.34" rx="2.75" ry="2.25" fill="#e2cabb" stroke="#a68b7d" stroke-width="0.8" transform="rotate(1.25 417.13 107.34)"/><ellipse cx="423.39" cy="92.29" rx="2.75" ry="2.25" fill="#e2cabb" stroke="#a68b7d" stroke-width="0.8" transform="rotate(1.38 423.39 92.29)"/><ellipse cx="423.02" cy="107.58" rx="2.75" ry="2.25" fill="#e2cabb" stroke="#a68b7d" stroke-width="0.8" transform="rotate(1.38 423.02 107.58)"/><ellipse cx="429.31" cy="92.56" rx="2.75" ry="2.25" fill="#e2cabb" stroke="#a68b7d" stroke-width="0.8" transform="rotate(1.51 429.31 92.56)"/><ellipse cx="428.91" cy="107.85" rx="2.75" ry="2.25" fill="#e2cabb" stroke="#a68b7d" stroke-width="0.8" transform="rotate(1.51 428.91 107.85)"/><ellipse cx="435.24" cy="92.85" rx="2.75" ry="2.25" fill="#e2cabb" stroke="#a68b7d" stroke-width="0.8" transform="rotate(1.64 435.24 92.85)"/><ellipse cx="434.8" cy="108.15" rx="2.75" ry="2.25" fill="#e2cabb" stroke="#a68b7d" stroke-width="0.8" transform="rotate(1.64 434.8 108.15)"/><ellipse cx="441.16" cy="93.17" rx="2.75" ry="2.25" fill="#e2cabb" stroke="#a68b7d" stroke-width="0.8" transform="rotate(1.76 441.16 93.17)"/><ellipse cx="440.69" cy="108.47" rx="2.75" ry="2.25" fill="#e2cabb" stroke="#a68b7d" stroke-width="0.8" transform="rotate(1.76 440.69 108.47)"/><ellipse cx="447.08" cy="93.52" rx="2.75" ry="2.25" fill="#e2cabb" stroke="#a68b7d" stroke-width="0.8" transform="rotate(1.89 447.08 93.52)"/><ellipse cx="446.58" cy="108.81" rx="2.75" ry="2.25" fill="#e2cabb" stroke="#a68b7d" stroke-width="0.8" transform="rotate(1.89 446.58 108.81)"/><ellipse cx="453.01" cy="93.89" rx="2.75" ry="2.25" fill="#e2cabb" stroke="#a68b7d" stroke-width="0.8" transform="rotate(2.02 453.01 93.89)"/><ellipse cx="452.47" cy="109.18" rx="2.75" ry="2.25" fill="#e2cabb" stroke="#a68b7d" stroke-width="0.8" transform="rotate(2.02 452.47 109.18)"/><ellipse cx="458.93" cy="94.28" rx="2.75" ry="2.25" fill="#e2cabb" stroke="#a68b7d" stroke-width="0.8" transform="rotate(2.15 458.93 94.28)"/><ellipse cx="458.36" cy="109.57" rx="2.75" ry="2.25" fill="#e2cabb" stroke="#a68b7d" stroke-width="0.8" transform="rotate(2.15 458.36 109.57)"/><ellipse cx="464.86" cy="94.7" rx="2.75" ry="2.25" fill="#e2cabb" stroke="#a68b7d" stroke-width="0.8" transform="rotate(2.28 464.86 94.7)"/><ellipse cx="464.25" cy="109.98" rx="2.75" ry="2.25" fill="#e2cabb" stroke="#a68b7d" stroke-width="0.8" transform="rotate(2.28 464.25 109.98)"/><ellipse cx="470.78" cy="95.14" rx="2.75" ry="2.25" fill="#e2cabb" stroke="#a68b7d" stroke-width="0.8" transform="rotate(2.41 470.78 95.14)"/><ellipse cx="470.14" cy="110.42" rx="2.75" ry="2.25" fill="#e2cabb" stroke="#a68b7d" stroke-width="0.8" transform="rotate(2.41 470.14 110.42)"/><ellipse cx="476.71" cy="95.6" rx="2.75" ry="2.25" fill="#e2cabb" stroke="#a68b7d" stroke-width="0.8" transform="rotate(2.53 476.71 95.6)"/><ellipse cx="476.03" cy="110.89" rx="2.75" ry="2.25" fill="#e2cabb" stroke="#a68b7d" stroke-width="0.8" transform="rotate(2.53 476.03 110.89)"/><ellipse cx="482.63" cy="96.09" rx="2.75" ry="2.25" fill="#e2cabb" stroke="#a68b7d" stroke-width="0.8" transform="rotate(2.66 482.63 96.09)"/><ellipse cx="481.92" cy="111.38" rx="2.75" ry="2.25" fill="#e2cabb" stroke="#a68b7d" stroke-width="0.8" transform="rotate(2.66 481.92 111.38)"/><ellipse cx="488.55" cy="96.61" rx="2.75" ry="2.25" fill="#e2cabb" stroke="#a68b7d" stroke-width="0.8" transform="rotate(2.79 488.55 96.61)"/><ellipse cx="487.81" cy="111.89" rx="2.75" ry="2.25" fill="#e2cabb" stroke="#a68b7d" stroke-width="0.8" transform="rotate(2.79 487.81 111.89)"/><ellipse cx="494.48" cy="97.14" rx="2.75" ry="2.25" fill="#e2cabb" stroke="#a68b7d" stroke-width="0.8" transform="rotate(2.92 494.48 97.14)"/><ellipse cx="493.7" cy="112.43" rx="2.75" ry="2.25" fill="#e2cabb" stroke="#a68b7d" stroke-width="0.8" transform="rotate(2.92 493.7 112.43)"/><ellipse cx="500.4" cy="97.71" rx="2.75" ry="2.25" fill="#e2cabb" stroke="#a68b7d" stroke-width="0.8" transform="rotate(3.04 500.4 97.71)"/><ellipse cx="499.59" cy="112.99" rx="2.75" ry="2.25" fill="#e2cabb" stroke="#a68b7d" stroke-width="0.8" transform="rotate(3.04 499.59 112.99)"/><ellipse cx="506.33" cy="98.29" rx="2.75" ry="2.25" fill="#e2cabb" stroke="#a68b7d" stroke-width="0.8" transform="rotate(3.17 506.33 98.29)"/><ellipse cx="505.48" cy="113.57" rx="2.75" ry="2.25" fill="#e2cabb" stroke="#a68b7d" stroke-width="0.8" transform="rotate(3.17 505.48 113.57)"/><ellipse cx="512.25" cy="98.9" rx="2.75" ry="2.25" fill="#e2cabb" stroke="#a68b7d" stroke-width="0.8" transform="rotate(3.3 512.25 98.9)"/><ellipse cx="511.37" cy="114.18" rx="2.75" ry="2.25" fill="#e2cabb" stroke="#a68b7d" stroke-width="0.8" transform="rotate(3.3 511.37 114.18)"/><ellipse cx="518.17" cy="99.54" rx="2.75" ry="2.25" fill="#e2cabb" stroke="#a68b7d" stroke-width="0.8" transform="rotate(3.43 518.17 99.54)"/><ellipse cx="517.26" cy="114.81" rx="2.75" ry="2.25" fill="#e2cabb" stroke="#a68b7d" stroke-width="0.8" transform="rotate(3.43 517.26 114.81)"/><ellipse cx="524.1" cy="100.2" rx="2.75" ry="2.25" fill="#e2cabb" stroke="#a68b7d" stroke-width="0.8" transform="rotate(3.55 524.1 100.2)"/><ellipse cx="523.15" cy="115.47" rx="2.75" ry="2.25" fill="#e2cabb" stroke="#a68b7d" stroke-width="0.8" transform="rotate(3.55 523.15 115.47)"/><ellipse cx="530.02" cy="100.88" rx="2.75" ry="2.25" fill="#e2cabb" stroke="#a68b7d" stroke-width="0.8" transform="rotate(3.68 530.02 100.88)"/><ellipse cx="529.04" cy="116.15" rx="2.75" ry="2.25" fill="#e2cabb" stroke="#a68b7d" stroke-width="0.8" transform="rotate(3.68 529.04 116.15)"/><ellipse cx="535.95" cy="101.59" rx="2.75" ry="2.25" fill="#e2cabb" stroke="#a68b7d" stroke-width="0.8" transform="rotate(3.81 535.95 101.59)"/><ellipse cx="534.93" cy="116.86" rx="2.75" ry="2.25" fill="#e2cabb" stroke="#a68b7d" stroke-width="0.8" transform="rotate(3.81 534.93 116.86)"/><ellipse cx="541.87" cy="102.32" rx="2.75" ry="2.25" fill="#e2cabb" stroke="#a68b7d" stroke-width="0.8" transform="rotate(3.94 541.87 102.32)"/><ellipse cx="540.82" cy="117.59" rx="2.75" ry="2.25" fill="#e2cabb" stroke="#a68b7d" stroke-width="0.8" transform="rotate(3.94 540.82 117.59)"/><ellipse cx="547.8" cy="103.08" rx="2.75" ry="2.25" fill="#e2cabb" stroke="#a68b7d" stroke-width="0.8" transform="rotate(4.06 547.8 103.08)"/><ellipse cx="546.71" cy="118.34" rx="2.75" ry="2.25" fill="#e2cabb" stroke="#a68b7d" stroke-width="0.8" transform="rotate(4.06 546.71 118.34)"/><ellipse cx="553.72" cy="103.86" rx="2.75" ry="2.25" fill="#e2cabb" stroke="#a68b7d" stroke-width="0.8" transform="rotate(4.19 553.72 103.86)"/><ellipse cx="552.6" cy="119.12" rx="2.75" ry="2.25" fill="#e2cabb" stroke="#a68b7d" stroke-width="0.8" transform="rotate(4.19 552.6 119.12)"/><ellipse cx="559.64" cy="104.66" rx="2.75" ry="2.25" fill="#e2cabb" stroke="#a68b7d" stroke-width="0.8" transform="rotate(4.32 559.64 104.66)"/><ellipse cx="558.49" cy="119.92" rx="2.75" ry="2.25" fill="#e2cabb" stroke="#a68b7d" stroke-width="0.8" transform="rotate(4.32 558.49 119.92)"/><ellipse cx="565.57" cy="105.49" rx="2.75" ry="2.25" fill="#e2cabb" stroke="#a68b7d" stroke-width="0.8" transform="rotate(4.44 565.57 105.49)"/><ellipse cx="564.38" cy="120.75" rx="2.75" ry="2.25" fill="#e2cabb" stroke="#a68b7d" stroke-width="0.8" transform="rotate(4.44 564.38 120.75)"/><ellipse cx="571.49" cy="106.35" rx="2.75" ry="2.25" fill="#e2cabb" stroke="#a68b7d" stroke-width="0.8" transform="rotate(4.57 571.49 106.35)"/><ellipse cx="570.27" cy="121.6" rx="2.75" ry="2.25" fill="#e2cabb" stroke="#a68b7d" stroke-width="0.8" transform="rotate(4.57 570.27 121.6)"/><ellipse cx="577.42" cy="107.22" rx="2.75" ry="2.25" fill="#e2cabb" stroke="#a68b7d" stroke-width="0.8" transform="rotate(4.69 577.42 107.22)"/><ellipse cx="576.16" cy="122.47" rx="2.75" ry="2.25" fill="#e2cabb" stroke="#a68b7d" stroke-width="0.8" transform="rotate(4.69 576.16 122.47)"/><ellipse cx="583.34" cy="108.12" rx="2.75" ry="2.25" fill="#e2cabb" stroke="#a68b7d" stroke-width="0.8" transform="rotate(4.82 583.34 108.12)"/><ellipse cx="582.06" cy="123.37" rx="2.75" ry="2.25" fill="#e2cabb" stroke="#a68b7d" stroke-width="0.8" transform="rotate(4.82 582.06 123.37)"/><ellipse cx="589.27" cy="109.05" rx="2.75" ry="2.25" fill="#e2cabb" stroke="#a68b7d" stroke-width="0.8" transform="rotate(4.95 589.27 109.05)"/><ellipse cx="587.95" cy="124.29" rx="2.75" ry="2.25" fill="#e2cabb" stroke="#a68b7d" stroke-width="0.8" transform="rotate(4.95 587.95 124.29)"/><ellipse cx="595.19" cy="110" rx="2.75" ry="2.25" fill="#e2cabb" stroke="#a68b7d" stroke-width="0.8" transform="rotate(5.07 595.19 110)"/><ellipse cx="593.84" cy="125.24" rx="2.75" ry="2.25" fill="#e2cabb" stroke="#a68b7d" stroke-width="0.8" transform="rotate(5.07 593.84 125.24)"/><ellipse cx="601.11" cy="110.98" rx="2.75" ry="2.25" fill="#e2cabb" stroke="#a68b7d" stroke-width="0.8" transform="rotate(5.2 601.11 110.98)"/><ellipse cx="599.73" cy="126.21" rx="2.75" ry="2.25" fill="#e2cabb" stroke="#a68b7d" stroke-width="0.8" transform="rotate(5.2 599.73 126.21)"/><ellipse cx="607.04" cy="111.97" rx="2.75" ry="2.25" fill="#e2cabb" stroke="#a68b7d" stroke-width="0.8" transform="rotate(5.32 607.04 111.97)"/><ellipse cx="605.62" cy="127.21" rx="2.75" ry="2.25" fill="#e2cabb" stroke="#a68b7d" stroke-width="0.8" transform="rotate(5.32 605.62 127.21)"/><ellipse cx="612.96" cy="113" rx="2.75" ry="2.25" fill="#e2cabb" stroke="#a68b7d" stroke-width="0.8" transform="rotate(5.45 612.96 113)"/><ellipse cx="611.51" cy="128.23" rx="2.75" ry="2.25" fill="#e2cabb" stroke="#a68b7d" stroke-width="0.8" transform="rotate(5.45 611.51 128.23)"/><ellipse cx="618.89" cy="114.04" rx="2.75" ry="2.25" fill="#e2cabb" stroke="#a68b7d" stroke-width="0.8" transform="rotate(5.57 618.89 114.04)"/><ellipse cx="617.4" cy="129.27" rx="2.75" ry="2.25" fill="#e2cabb" stroke="#a68b7d" stroke-width="0.8" transform="rotate(5.57 617.4 129.27)"/>
</g>
<g clip-path="url(#frameClip)">
<path d="M106.5,512 C108.05,508.82 113.45,497.52 115.8,492.9 C118.15,488.28 118.65,487.17 120.6,484.3 C122.55,481.43 124.73,478.57 127.5,475.7 C130.27,472.83 133.95,469.6 137.2,467.1 C140.45,464.6 143.53,462.83 147,460.7 C150.47,458.57 153.93,456.43 158,454.3 C162.07,452.17 166.3,450.05 171.4,447.9 C176.5,445.75 183.83,443.32 188.6,441.4 C193.37,439.48 194.77,438.3 200,436.4 C205.23,434.5 213.23,431.63 220,430 C226.77,428.37 232.88,428.12 240.6,426.6 C248.32,425.08 257.73,422.53 266.3,420.9 C274.87,419.27 283.43,417.85 292,416.8 C300.57,415.75 309.7,415.25 317.7,414.6 C325.7,413.95 330.95,413.33 340,412.9 C349.05,412.47 360.33,411.98 372,412 C383.67,412.02 393,411.55 410,413 C427,414.45 456.17,417.98 474,420.7 C491.83,423.42 506.23,426.8 517,429.3 C527.77,431.8 531.8,433.2 538.6,435.7 C545.4,438.2 548.9,439.25 557.8,444.3 C566.7,449.35 582.97,457.72 592,466 C601.03,474.28 607.67,486.33 612,494 C616.33,501.67 617,509 618,512 L618,520 L104,520 Z" fill="#dfd5e2"/>
<path d="M106.5,512 C108.05,508.82 113.45,497.52 115.8,492.9 C118.15,488.28 118.65,487.17 120.6,484.3 C122.55,481.43 124.73,478.57 127.5,475.7 C130.27,472.83 133.95,469.6 137.2,467.1 C140.45,464.6 143.53,462.83 147,460.7 C150.47,458.57 153.93,456.43 158,454.3 C162.07,452.17 166.3,450.05 171.4,447.9 C176.5,445.75 183.83,443.32 188.6,441.4 C193.37,439.48 194.77,438.3 200,436.4 C205.23,434.5 213.23,431.63 220,430 C226.77,428.37 232.88,428.12 240.6,426.6 C248.32,425.08 257.73,422.53 266.3,420.9 C274.87,419.27 283.43,417.85 292,416.8 C300.57,415.75 309.7,415.25 317.7,414.6 C325.7,413.95 330.95,413.33 340,412.9 C349.05,412.47 360.33,411.98 372,412 C383.67,412.02 393,411.55 410,413 C427,414.45 456.17,417.98 474,420.7 C491.83,423.42 506.23,426.8 517,429.3 C527.77,431.8 531.8,433.2 538.6,435.7 C545.4,438.2 548.9,439.25 557.8,444.3 C566.7,449.35 582.97,457.72 592,466 C601.03,474.28 607.67,486.33 612,494 C616.33,501.67 617,509 618,512" fill="none" stroke="#736687" stroke-width="5.6" stroke-dasharray="17 7.6" stroke-linecap="round"/>
</g>
<line x1="176.8" y1="50.2" x2="177.94" y2="37.25" stroke="#1d1d1f" stroke-width="1.2"/><circle cx="178.1" cy="35.36" r="1.8" fill="#e2eef4" stroke="#1d1d1f" stroke-width="1.1"/><line x1="176.8" y1="50.2" x2="184.31" y2="39.55" stroke="#1d1d1f" stroke-width="1.2"/><circle cx="185.35" cy="37.99" r="1.8" fill="#e2eef4" stroke="#1d1d1f" stroke-width="1.1"/><line x1="176.8" y1="50.2" x2="188.67" y2="44.71" stroke="#1d1d1f" stroke-width="1.2"/><circle cx="190.3" cy="43.9" r="1.8" fill="#e2eef4" stroke="#1d1d1f" stroke-width="1.1"/><line x1="176.8" y1="50.2" x2="189.85" y2="51.33" stroke="#1d1d1f" stroke-width="1.2"/><circle cx="191.64" cy="51.5" r="1.8" fill="#e2eef4" stroke="#1d1d1f" stroke-width="1.1"/><line x1="176.8" y1="50.2" x2="187.53" y2="57.66" stroke="#1d1d1f" stroke-width="1.2"/><circle cx="189.01" cy="58.75" r="1.8" fill="#e2eef4" stroke="#1d1d1f" stroke-width="1.1"/><line x1="176.8" y1="50.2" x2="182.34" y2="61.98" stroke="#1d1d1f" stroke-width="1.2"/><circle cx="183.1" cy="63.7" r="1.8" fill="#e2eef4" stroke="#1d1d1f" stroke-width="1.1"/><line x1="176.8" y1="50.2" x2="175.66" y2="63.15" stroke="#1d1d1f" stroke-width="1.2"/><circle cx="175.5" cy="65.04" r="1.8" fill="#e2eef4" stroke="#1d1d1f" stroke-width="1.1"/><line x1="176.8" y1="50.2" x2="169.29" y2="60.85" stroke="#1d1d1f" stroke-width="1.2"/><circle cx="168.25" cy="62.41" r="1.8" fill="#e2eef4" stroke="#1d1d1f" stroke-width="1.1"/><line x1="176.8" y1="50.2" x2="164.93" y2="55.69" stroke="#1d1d1f" stroke-width="1.2"/><circle cx="163.3" cy="56.5" r="1.8" fill="#e2eef4" stroke="#1d1d1f" stroke-width="1.1"/><line x1="176.8" y1="50.2" x2="163.75" y2="49.07" stroke="#1d1d1f" stroke-width="1.2"/><circle cx="161.96" cy="48.9" r="1.8" fill="#e2eef4" stroke="#1d1d1f" stroke-width="1.1"/><line x1="176.8" y1="50.2" x2="166.07" y2="42.74" stroke="#1d1d1f" stroke-width="1.2"/><circle cx="164.59" cy="41.65" r="1.8" fill="#e2eef4" stroke="#1d1d1f" stroke-width="1.1"/><line x1="176.8" y1="50.2" x2="171.26" y2="38.42" stroke="#1d1d1f" stroke-width="1.2"/><circle cx="170.5" cy="36.7" r="1.8" fill="#e2eef4" stroke="#1d1d1f" stroke-width="1.1"/><circle cx="176.8" cy="50.2" r="8.8" fill="#1d1d1f"/><path d="M174.6,45.7 L179,45.7 L180.2,54.7 L173.4,54.7 Z" fill="#3a3a3a" stroke="#8c8c8c" stroke-width="0.7"/><path d="M176,47.2 L175.3,53.7 M177.7,47.2 L178.4,53.7" stroke="#9a9a9a" stroke-width="0.6"/>
<line x1="325.6" y1="41.7" x2="328.57" y2="28.94" stroke="#1d1d1f" stroke-width="1.2"/><circle cx="328.97" cy="27.08" r="1.8" fill="#e2eef4" stroke="#1d1d1f" stroke-width="1.1"/><line x1="325.6" y1="41.7" x2="338.22" y2="37.87" stroke="#1d1d1f" stroke-width="1.2"/><circle cx="339.94" cy="37.31" r="1.8" fill="#e2eef4" stroke="#1d1d1f" stroke-width="1.1"/><line x1="325.6" y1="41.7" x2="335.25" y2="50.63" stroke="#1d1d1f" stroke-width="1.2"/><circle cx="336.57" cy="51.93" r="1.8" fill="#e2eef4" stroke="#1d1d1f" stroke-width="1.1"/><line x1="325.6" y1="41.7" x2="322.63" y2="54.46" stroke="#1d1d1f" stroke-width="1.2"/><circle cx="322.23" cy="56.32" r="1.8" fill="#e2eef4" stroke="#1d1d1f" stroke-width="1.1"/><line x1="325.6" y1="41.7" x2="312.98" y2="45.53" stroke="#1d1d1f" stroke-width="1.2"/><circle cx="311.26" cy="46.09" r="1.8" fill="#e2eef4" stroke="#1d1d1f" stroke-width="1.1"/><line x1="325.6" y1="41.7" x2="315.95" y2="32.77" stroke="#1d1d1f" stroke-width="1.2"/><circle cx="314.63" cy="31.47" r="1.8" fill="#e2eef4" stroke="#1d1d1f" stroke-width="1.1"/><circle cx="325.6" cy="41.7" r="8.9" fill="#1d1d1f"/><path d="M330.45,43.7 L325.6,45.7 L320.75,43.7 L320.75,39.7 L325.6,37.7 L330.45,39.7Z" fill="#333" stroke="#8a8a8a" stroke-width="0.7" transform="rotate(25 325.6 41.7)"/><path d="M323.1,41.7 L328.1,41.7" stroke="#6a6a6a" stroke-width="1.2" transform="rotate(25 325.6 41.7)"/>
<line x1="430.6" y1="52.4" x2="427.39" y2="40.52" stroke="#1d1d1f" stroke-width="1.2"/><circle cx="426.92" cy="38.68" r="1.8" fill="#e2eef4" stroke="#1d1d1f" stroke-width="1.1"/><line x1="430.6" y1="52.4" x2="433.81" y2="40.52" stroke="#1d1d1f" stroke-width="1.2"/><circle cx="434.28" cy="38.68" r="1.8" fill="#e2eef4" stroke="#1d1d1f" stroke-width="1.1"/><line x1="430.6" y1="52.4" x2="439.37" y2="43.7" stroke="#1d1d1f" stroke-width="1.2"/><circle cx="440.64" cy="42.36" r="1.8" fill="#e2eef4" stroke="#1d1d1f" stroke-width="1.1"/><line x1="430.6" y1="52.4" x2="442.58" y2="49.22" stroke="#1d1d1f" stroke-width="1.2"/><circle cx="444.32" cy="48.72" r="1.8" fill="#e2eef4" stroke="#1d1d1f" stroke-width="1.1"/><line x1="430.6" y1="52.4" x2="442.58" y2="55.58" stroke="#1d1d1f" stroke-width="1.2"/><circle cx="444.32" cy="56.08" r="1.8" fill="#e2eef4" stroke="#1d1d1f" stroke-width="1.1"/><line x1="430.6" y1="52.4" x2="439.37" y2="61.1" stroke="#1d1d1f" stroke-width="1.2"/><circle cx="440.64" cy="62.44" r="1.8" fill="#e2eef4" stroke="#1d1d1f" stroke-width="1.1"/><line x1="430.6" y1="52.4" x2="433.81" y2="64.28" stroke="#1d1d1f" stroke-width="1.2"/><circle cx="434.28" cy="66.12" r="1.8" fill="#e2eef4" stroke="#1d1d1f" stroke-width="1.1"/><line x1="430.6" y1="52.4" x2="427.39" y2="64.28" stroke="#1d1d1f" stroke-width="1.2"/><circle cx="426.92" cy="66.12" r="1.8" fill="#e2eef4" stroke="#1d1d1f" stroke-width="1.1"/><line x1="430.6" y1="52.4" x2="421.83" y2="61.1" stroke="#1d1d1f" stroke-width="1.2"/><circle cx="420.56" cy="62.44" r="1.8" fill="#e2eef4" stroke="#1d1d1f" stroke-width="1.1"/><line x1="430.6" y1="52.4" x2="418.62" y2="55.58" stroke="#1d1d1f" stroke-width="1.2"/><circle cx="416.88" cy="56.08" r="1.8" fill="#e2eef4" stroke="#1d1d1f" stroke-width="1.1"/><line x1="430.6" y1="52.4" x2="418.62" y2="49.22" stroke="#1d1d1f" stroke-width="1.2"/><circle cx="416.88" cy="48.72" r="1.8" fill="#e2eef4" stroke="#1d1d1f" stroke-width="1.1"/><line x1="430.6" y1="52.4" x2="421.83" y2="43.7" stroke="#1d1d1f" stroke-width="1.2"/><circle cx="420.56" cy="42.36" r="1.8" fill="#e2eef4" stroke="#1d1d1f" stroke-width="1.1"/><circle cx="430.6" cy="52.4" r="8.5" fill="#1d1d1f"/><path d="M435.45,54.4 L430.6,56.4 L425.75,54.4 L425.75,50.4 L430.6,48.4 L435.45,50.4Z" fill="#333" stroke="#8a8a8a" stroke-width="0.7" transform="rotate(15 430.6 52.4)"/><path d="M428.1,52.4 L433.1,52.4" stroke="#6a6a6a" stroke-width="1.2" transform="rotate(15 430.6 52.4)"/>
<text x="151.8" y="77.2" font-size="11" fill="#2f2f33" stroke="#2f2f33" stroke-width="0.34" text-anchor="start" font-weight="normal" textLength="53.2" lengthAdjust="spacingAndGlyphs" >Retrovirus</text>
<text x="296.8" y="70.4" font-size="11" fill="#2f2f33" stroke="#2f2f33" stroke-width="0.34" text-anchor="start" font-weight="normal" textLength="54.8" lengthAdjust="spacingAndGlyphs" >DNA virus</text>
<text x="403.9" y="81.1" font-size="11" fill="#2f2f33" stroke="#2f2f33" stroke-width="0.34" text-anchor="start" font-weight="normal" textLength="53.3" lengthAdjust="spacingAndGlyphs" >RNA virus</text>
<path d="M178,126.9 L175.4,121.9 L180.6,121.9 Z" fill="#2e2e2e"/>
<line x1="178" y1="82" x2="178" y2="122.9" stroke="#2e2e2e" stroke-width="1.1"/>
<path d="M325.7,112.9 L323.1,107.9 L328.3,107.9 Z" fill="#2e2e2e"/>
<line x1="325.7" y1="76.6" x2="325.7" y2="108.9" stroke="#2e2e2e" stroke-width="1.1"/>
<path d="M429.7,149.6 L427.1,144.6 L432.3,144.6 Z" fill="#2e2e2e"/>
<line x1="429.7" y1="86.6" x2="429.7" y2="145.6" stroke="#2e2e2e" stroke-width="1.1"/>
<path d="M101.4,290.7 C101.77,289.45 101.82,287.93 107.9,287.5 C113.98,287.07 129.72,287.75 137.9,288.1 C146.08,288.45 147.37,288.28 157,289.6 C166.63,290.92 186.03,294.03 195.7,296 C205.37,297.97 208.95,299.32 215,301.4 C221.05,303.48 226.17,306.77 232,308.5 C237.83,310.23 242.23,311.02 250,311.8 C257.77,312.58 267.77,314.17 278.6,313.2 C289.43,312.23 304.1,307.82 315,306 C325.9,304.18 336.17,302.97 344,302.3 C351.83,301.63 355.67,300.05 362,302 C368.33,303.95 376.97,309.67 382,314 C387.03,318.33 390.48,323.67 392.2,328 C393.92,332.33 392.53,336.58 392.3,340 C392.07,343.42 392.68,345.5 390.8,348.5 C388.92,351.5 383.5,356.45 381,358 C378.5,359.55 377,360.97 375.8,357.8 C374.6,354.63 375.1,343.7 373.8,339 C372.5,334.3 371.47,332.2 368,329.6 C364.53,327 361,324.53 353,323.4 C345,322.27 331.6,322.72 320,322.8 C308.4,322.88 294.23,323.43 283.4,323.9 C272.57,324.37 261.48,325.12 255,325.6 C248.52,326.08 246.63,326.2 244.5,326.8 C242.37,327.4 241.95,328.5 242.2,329.2 C242.45,329.9 241.97,330.42 246,331 C250.03,331.58 259.07,332.22 266.4,332.7 C273.73,333.18 283.2,333.48 290,333.9 C296.8,334.32 303.65,334.48 307.2,335.2 C310.75,335.92 311.25,337.27 311.3,338.2 C311.35,339.13 311.05,340.32 307.5,340.8 C303.95,341.28 295.75,341.13 290,341.1 C284.25,341.07 276.37,340.4 273,340.6 C269.63,340.8 269.72,341.6 269.8,342.3 C269.88,343 270.13,343.85 273.5,344.8 C276.87,345.75 281.08,346.5 290,348 C298.92,349.5 318.5,352.1 327,353.8 C335.5,355.5 337.92,357.03 341,358.2 C344.08,359.37 345.67,360.13 345.5,360.8 C345.33,361.47 347.1,362.45 340,362.2 C332.9,361.95 317.18,361.22 302.9,359.3 C288.62,357.38 266.45,352.95 254.3,350.7 C242.15,348.45 238.72,347.02 230,345.8 C221.28,344.58 212,343.98 202,343.4 C192,342.82 180.68,342.15 170,342.3 C159.32,342.45 147.9,344.12 137.9,344.3 C127.9,344.48 115.62,344.32 110,343.4 C104.38,342.48 104.53,340.37 104.2,338.8 C103.87,337.23 106.32,335.27 108,334 C109.68,332.73 110.03,332.18 114.3,331.2 C118.57,330.22 126.15,328.62 133.6,328.1 C141.05,327.58 150.43,327.73 159,328.1 C167.57,328.47 177.58,329.28 185,330.3 C192.42,331.32 199.42,333.65 203.5,334.2 C207.58,334.75 208.78,334.28 209.5,333.6 C210.22,332.92 210.82,331.37 207.8,330.1 C204.78,328.83 199.53,327.38 191.4,326 C183.27,324.62 168.47,323.23 159,321.8 C149.53,320.37 139.5,318.77 134.6,317.4 C129.7,316.03 129.77,314.78 129.6,313.6 C129.43,312.42 130.43,310.55 133.6,310.3 C136.77,310.05 140.75,310.72 148.6,312.1 C156.45,313.48 170.88,316.8 180.7,318.6 C190.52,320.4 202.28,322.47 207.5,322.9 C212.72,323.33 212,322.43 212,321.2 C212,319.97 211.67,317.53 207.5,315.5 C203.33,313.47 195.08,311.17 187,309 C178.92,306.83 169,304.3 159,302.5 C149,300.7 135.88,299.45 127,298.2 C118.12,296.95 109.97,296.25 105.7,295 C101.43,293.75 101.03,291.95 101.4,290.7Z" fill="#c5d0dc" stroke="#4e545b" stroke-width="1.1"/>
<text x="117.3" y="342.8" font-size="10" fill="#3a3d42" stroke="#3a3d42" stroke-width="0.34" text-anchor="start" font-weight="normal" textLength="12.2" lengthAdjust="spacingAndGlyphs" >ER</text>
<ellipse cx="436" cy="269" rx="81.6" ry="31" fill="#fcf7ef" stroke="#56449c" stroke-width="1.5" transform="rotate(-17.3 436 269)"/>
<path d="M367,289 C366.25,285.92 366.5,280.08 367.5,277 C368.5,273.92 370.75,272 373,270.5 C375.25,269 377.83,269.25 381,268 C384.17,266.75 388.17,264.33 392,263 C395.83,261.67 399.83,261.08 404,260 C408.17,258.92 412.67,257.92 417,256.5 C421.33,255.08 425.17,253.33 430,251.5 C434.83,249.67 441.67,246.92 446,245.5 C450.33,244.08 451.33,244 456,243 C460.67,242 469.33,240.33 474,239.5 C478.67,238.67 480.67,237.67 484,238 C487.33,238.33 491.67,239.5 494,241.5 C496.33,243.5 497.67,247.08 498,250 C498.33,252.92 497.42,256.5 496,259 C494.58,261.5 493,263 489.5,265 C486,267 479.92,269.08 475,271 C470.08,272.92 465,274.67 460,276.5 C455,278.33 450,280.17 445,282 C440,283.83 435,285.67 430,287.5 C425,289.33 420,291.67 415,293 C410,294.33 405,295 400,295.5 C395,296 389.67,296 385,296 C380.33,296 375,296.67 372,295.5 C369,294.33 367.75,292.08 367,289Z" fill="url(#gCris)"/>
<line x1="376" y1="266" x2="390" y2="274" stroke="#fcf7ef" stroke-width="6.6" stroke-linecap="round"/>
<line x1="406" y1="256" x2="413" y2="267" stroke="#fcf7ef" stroke-width="6.6" stroke-linecap="round"/>
<line x1="433" y1="247" x2="435" y2="268" stroke="#fcf7ef" stroke-width="6.6" stroke-linecap="round"/>
<line x1="458" y1="240" x2="461" y2="253" stroke="#fcf7ef" stroke-width="6.6" stroke-linecap="round"/>
<line x1="502" y1="262" x2="481" y2="258" stroke="#fcf7ef" stroke-width="6.6" stroke-linecap="round"/>
<line x1="396" y1="300" x2="399" y2="285" stroke="#fcf7ef" stroke-width="6.6" stroke-linecap="round"/>
<line x1="421" y1="296" x2="422" y2="281" stroke="#fcf7ef" stroke-width="6.6" stroke-linecap="round"/>
<line x1="446" y1="288" x2="447" y2="275" stroke="#fcf7ef" stroke-width="6.6" stroke-linecap="round"/>
<line x1="470" y1="281" x2="469" y2="270" stroke="#fcf7ef" stroke-width="6.6" stroke-linecap="round"/>
<text x="0" y="0" font-size="9.2" fill="#2f2f33" stroke="#2f2f33" stroke-width="0.25" textLength="63" lengthAdjust="spacingAndGlyphs" transform="translate(447.5,293.5) rotate(-30.5)">Mitochondrium</text>
<path d="M178,170.8 L175.4,165.8 L180.6,165.8 Z" fill="#2e2e2e"/>
<line x1="178" y1="151.7" x2="178" y2="166.8" stroke="#2e2e2e" stroke-width="1.15"/>
<path d="M178,222.3 L175.4,217.3 L180.6,217.3 Z" fill="#2e2e2e"/>
<line x1="178" y1="199" x2="178" y2="218.3" stroke="#2e2e2e" stroke-width="1.15"/>
<path d="M304.5,128.6 C270,132 238,150 222,174 C208,192 200,204 193.6,215" fill="none" stroke="#2e2e2e" stroke-width="1.15"/>
<path d="M191.7,217.9 L192.33,212.3 L196.65,215.2 Z" fill="#2e2e2e"/>
<path d="M232,219 L228.46,214.61 L233.56,213.59 Z" fill="#2e2e2e"/>
<line x1="223.4" y1="176.3" x2="231.21" y2="215.08" stroke="#2e2e2e" stroke-width="1.15"/>
<path d="M177.6,270.6 L175,265.6 L180.2,265.6 Z" fill="#2e2e2e"/>
<line x1="177.6" y1="248.6" x2="177.6" y2="266.6" stroke="#2e2e2e" stroke-width="1.15"/>
<path d="M197.1,272.1 L198.62,266.67 L202.41,270.22 Z" fill="#2e2e2e"/>
<line x1="221.5" y1="246" x2="199.83" y2="269.18" stroke="#2e2e2e" stroke-width="1.15"/>
<path d="M299,136 C260,165 252,215 298.5,244" fill="none" stroke="#2e2e2e" stroke-width="1.15" stroke-dasharray="3.2 3.2"/>
<path d="M301.7,246.8 L296.14,245.87 L299.27,241.71 Z" fill="#2e2e2e"/>
<path d="M303,260 C285,275 250,287 222,285.5 C213,285 208,284 203,283" fill="none" stroke="#2e2e2e" stroke-width="1.15" stroke-dasharray="3.2 3.2"/>
<path d="M199,282.6 L204.26,280.58 L203.67,285.75 Z" fill="#2e2e2e"/>
<text x="275.8" y="191.5" font-size="9" fill="#444444" stroke="#444444" stroke-width="0.34" text-anchor="start" font-weight="normal" >?</text>
<text x="251.5" y="278.5" font-size="9" fill="#444444" stroke="#444444" stroke-width="0.34" text-anchor="start" font-weight="normal" >?</text>
<path d="M325.5,158.8 L322.9,153.8 L328.1,153.8 Z" fill="#2e2e2e"/>
<line x1="325.5" y1="141" x2="325.5" y2="154.8" stroke="#2e2e2e" stroke-width="1.15"/>
<path d="M325.5,203.8 L322.9,198.8 L328.1,198.8 Z" fill="#2e2e2e"/>
<line x1="325.5" y1="189.4" x2="325.5" y2="199.8" stroke="#2e2e2e" stroke-width="1.15"/>
<path d="M325.5,243.2 L322.9,238.2 L328.1,238.2 Z" fill="#2e2e2e"/>
<line x1="325.5" y1="229" x2="325.5" y2="239.2" stroke="#2e2e2e" stroke-width="1.15"/>
<path d="M345.6,244.8 L347.47,239.48 L351.03,243.28 Z" fill="#2e2e2e"/>
<line x1="413" y1="181.7" x2="348.52" y2="242.07" stroke="#2e2e2e" stroke-width="1.15"/>
<path d="M398.6,238 L394.86,242.21 L393,237.36 Z" fill="#2e2e2e"/>
<line x1="351" y1="256.2" x2="394.86" y2="239.43" stroke="#2e2e2e" stroke-width="1.15"/>
<path d="M345.6,277.8 L340.63,275.15 L344.91,272.21 Z" fill="#2e2e2e"/>
<line x1="338.6" y1="267.6" x2="343.34" y2="274.5" stroke="#2e2e2e" stroke-width="1.15"/>
<path d="M194.3,348.1 L190.39,344.04 L195.38,342.57 Z" fill="#2e2e2e"/>
<line x1="179.6" y1="298.2" x2="193.17" y2="344.26" stroke="#2e2e2e" stroke-width="1.15"/>
<path d="M355.3,328.2 C345,345 330,362 305,370 C285,377 255,378 228.5,370.3" fill="none" stroke="#2e2e2e" stroke-width="1.1"/>
<path d="M224.6,368.9 L230.18,368.14 L228.43,373.04 Z" fill="#2e2e2e"/>
<path d="M434.7,245 C425,290 418,330 398,357 C375,384 305,395 250,388.5 C238,386.5 229,382 222.5,377.2" fill="none" stroke="#2e2e2e" stroke-width="1.1"/>
<path d="M219.3,375.4 L224.92,375.8 L222.2,380.23 Z" fill="#2e2e2e"/>
<path d="M437.3,332.6 L434.7,327.6 L439.9,327.6 Z" fill="#2e2e2e"/>
<line x1="437.3" y1="245" x2="437.3" y2="328.6" stroke="#2e2e2e" stroke-width="1.15"/>
<path d="M426.9,332.5 L421.42,331.19 L424.83,327.26 Z" fill="#2e2e2e"/>
<line x1="406.4" y1="314.7" x2="423.88" y2="329.88" stroke="#2e2e2e" stroke-width="1.15"/>
<path d="M437.3,373.8 L434.7,368.8 L439.9,368.8 Z" fill="#2e2e2e"/>
<line x1="437.3" y1="359.2" x2="437.3" y2="369.8" stroke="#2e2e2e" stroke-width="1.15"/>
<path d="M311.7,431.7 L315.28,427.35 L317.32,432.13 Z" fill="#2e2e2e"/>
<line x1="413" y1="388.6" x2="315.38" y2="430.13" stroke="#2e2e2e" stroke-width="1.15"/>
<path d="M199.2,392.9 L196.6,387.9 L201.8,387.9 Z" fill="#2e2e2e"/>
<line x1="199.2" y1="376" x2="199.2" y2="388.9" stroke="#2e2e2e" stroke-width="1.15"/>
<path d="M200.4,454.5 L197.8,449.5 L203,449.5 Z" fill="#2e2e2e"/>
<line x1="200.4" y1="417.3" x2="200.4" y2="450.5" stroke="#2e2e2e" stroke-width="1.15"/>
<line x1="528.2" y1="146" x2="528.2" y2="330" stroke="#2e2e2e" stroke-width="1.15"/>
<path d="M528.2,392 L528.2,408.9 L453,452.4" fill="none" stroke="#2e2e2e" stroke-width="1.1"/>
<path d="M448.6,455 L451.62,450.24 L454.23,454.74 Z" fill="#2e2e2e"/>
<path d="M579.2,262.4 C585,240 590,200 592.6,160 C594,120 590,80 583,58 C579,48 572,45.5 560,45 L548,44.6" fill="none" stroke="#2e2e2e" stroke-width="1.15"/>
<path d="M543.9,44.5 L548.94,41.98 L548.86,47.18 Z" fill="#2e2e2e"/>
<text x="161.1" y="141.6" font-size="11.31" fill="#2f2f33" stroke="#2f2f33" stroke-width="0.34" text-anchor="start" font-weight="normal" textLength="35.2" lengthAdjust="spacingAndGlyphs" >ssRNA</text>
<path d="M157.3,145.4 L157.64,145.42 L157.97,145.46 L158.31,145.54 L158.64,145.64 L158.98,145.78 L159.31,145.94 L159.65,146.13 L159.99,146.34 L160.32,146.57 L160.66,146.82 L160.99,147.09 L161.33,147.38 L161.66,147.68 L162,147.98 L162.33,148.29 L162.67,148.61 L163.01,148.93 L163.34,149.24 L163.68,149.55 L164.01,149.85 L164.35,150.14 L164.68,150.41 L165.02,150.67 L165.36,150.91 L165.69,151.12 L166.03,151.32 L166.36,151.48 L166.7,151.63 L167.03,151.74 L167.37,151.82 L167.71,151.88 L168.04,151.9 L168.38,151.89 L168.71,151.85 L169.05,151.78 L169.38,151.69 L169.72,151.56 L170.06,151.4 L170.39,151.22 L170.73,151.02 L171.06,150.79 L171.4,150.54 L171.73,150.28 L172.07,149.99 L172.4,149.7 L172.74,149.4 L173.08,149.08 L173.41,148.77 L173.75,148.45 L174.08,148.14 L174.42,147.83 L174.75,147.53 L175.09,147.23 L175.43,146.96 L175.76,146.7 L176.1,146.45 L176.43,146.23 L176.77,146.03 L177.1,145.86 L177.44,145.71 L177.78,145.59 L178.11,145.5 L178.45,145.43 L178.78,145.4 L179.12,145.4 L179.45,145.43 L179.79,145.5 L180.12,145.59 L180.46,145.71 L180.8,145.86 L181.13,146.03 L181.47,146.23 L181.8,146.45 L182.14,146.7 L182.47,146.96 L182.81,147.23 L183.15,147.53 L183.48,147.83 L183.82,148.14 L184.15,148.45 L184.49,148.77 L184.82,149.08 L185.16,149.4 L185.5,149.7 L185.83,149.99 L186.17,150.28 L186.5,150.54 L186.84,150.79 L187.17,151.02 L187.51,151.22 L187.84,151.4 L188.18,151.56 L188.52,151.69 L188.85,151.78 L189.19,151.85 L189.52,151.89 L189.86,151.9 L190.19,151.88 L190.53,151.82 L190.87,151.74 L191.2,151.63 L191.54,151.48 L191.87,151.32 L192.21,151.12 L192.54,150.91 L192.88,150.67 L193.22,150.41 L193.55,150.14 L193.89,149.85 L194.22,149.55 L194.56,149.24 L194.89,148.93 L195.23,148.61 L195.57,148.29 L195.9,147.98 L196.24,147.68 L196.57,147.38 L196.91,147.09 L197.24,146.82 L197.58,146.57 L197.91,146.34 L198.25,146.13 L198.59,145.94 L198.92,145.78 L199.26,145.64 L199.59,145.54 L199.93,145.46 L200.26,145.42 L200.6,145.4" fill="none" stroke="#2e2e2e" stroke-width="1.6" stroke-linecap="round"/>
<text x="101" y="157.5" font-size="11.41" fill="#2f2f33" stroke="#2f2f33" stroke-width="0.34" text-anchor="start" font-weight="normal" textLength="42.5" lengthAdjust="spacingAndGlyphs" >Reverse</text>
<text x="87.5" y="171.3" font-size="11.8" fill="#2f2f33" stroke="#2f2f33" stroke-width="0.34" text-anchor="start" font-weight="normal" textLength="69.7" lengthAdjust="spacingAndGlyphs" >Transcription</text>
<text x="159.5" y="183.2" font-size="11.8" fill="#2f2f33" stroke="#2f2f33" stroke-width="0.34" text-anchor="start" font-weight="normal" textLength="37.7" lengthAdjust="spacingAndGlyphs" >dsDNA</text>
<path d="M156,194.3 L156.33,194.28 L156.66,194.23 L156.99,194.14 L157.31,194.02 L157.64,193.87 L157.97,193.69 L158.3,193.48 L158.63,193.24 L158.96,192.97 L159.29,192.68 L159.62,192.38 L159.94,192.05 L160.27,191.71 L160.6,191.36 L160.93,191 L161.26,190.63 L161.59,190.26 L161.92,189.89 L162.25,189.53 L162.57,189.18 L162.9,188.83 L163.23,188.5 L163.56,188.19 L163.89,187.9 L164.22,187.63 L164.55,187.38 L164.88,187.16 L165.2,186.97 L165.53,186.81 L165.86,186.68 L166.19,186.59 L166.52,186.53 L166.85,186.5 L167.18,186.51 L167.51,186.55 L167.83,186.63 L168.16,186.74 L168.49,186.89 L168.82,187.06 L169.15,187.27 L169.48,187.5 L169.81,187.76 L170.14,188.04 L170.46,188.34 L170.79,188.67 L171.12,189 L171.45,189.35 L171.78,189.71 L172.11,190.08 L172.44,190.45 L172.76,190.81 L173.09,191.18 L173.42,191.53 L173.75,191.88 L174.08,192.22 L174.41,192.53 L174.74,192.83 L175.07,193.11 L175.39,193.36 L175.72,193.59 L176.05,193.79 L176.38,193.95 L176.71,194.09 L177.04,194.19 L177.37,194.26 L177.7,194.3 L178.02,194.3 L178.35,194.26 L178.68,194.19 L179.01,194.09 L179.34,193.95 L179.67,193.79 L180,193.59 L180.33,193.36 L180.65,193.11 L180.98,192.83 L181.31,192.53 L181.64,192.22 L181.97,191.88 L182.3,191.53 L182.63,191.18 L182.96,190.81 L183.28,190.45 L183.61,190.08 L183.94,189.71 L184.27,189.35 L184.6,189 L184.93,188.67 L185.26,188.34 L185.58,188.04 L185.91,187.76 L186.24,187.5 L186.57,187.27 L186.9,187.06 L187.23,186.89 L187.56,186.74 L187.89,186.63 L188.21,186.55 L188.54,186.51 L188.87,186.5 L189.2,186.53 L189.53,186.59 L189.86,186.68 L190.19,186.81 L190.52,186.97 L190.84,187.16 L191.17,187.38 L191.5,187.63 L191.83,187.9 L192.16,188.19 L192.49,188.5 L192.82,188.83 L193.15,189.18 L193.47,189.53 L193.8,189.89 L194.13,190.26 L194.46,190.63 L194.79,191 L195.12,191.36 L195.45,191.71 L195.78,192.05 L196.1,192.38 L196.43,192.68 L196.76,192.97 L197.09,193.24 L197.42,193.48 L197.75,193.69 L198.08,193.87 L198.41,194.02 L198.73,194.14 L199.06,194.23 L199.39,194.28 L199.72,194.3" fill="none" stroke="#2e2e2e" stroke-width="1.5" stroke-linecap="round"/>
<path d="M156,186.5 L156.33,186.52 L156.66,186.57 L156.99,186.66 L157.31,186.78 L157.64,186.93 L157.97,187.11 L158.3,187.32 L158.63,187.56 L158.96,187.83 L159.29,188.12 L159.62,188.42 L159.94,188.75 L160.27,189.09 L160.6,189.44 L160.93,189.8 L161.26,190.17 L161.59,190.54 L161.92,190.91 L162.25,191.27 L162.57,191.62 L162.9,191.97 L163.23,192.3 L163.56,192.61 L163.89,192.9 L164.22,193.17 L164.55,193.42 L164.88,193.64 L165.2,193.83 L165.53,193.99 L165.86,194.12 L166.19,194.21 L166.52,194.27 L166.85,194.3 L167.18,194.29 L167.51,194.25 L167.83,194.17 L168.16,194.06 L168.49,193.91 L168.82,193.74 L169.15,193.53 L169.48,193.3 L169.81,193.04 L170.14,192.76 L170.46,192.46 L170.79,192.13 L171.12,191.8 L171.45,191.45 L171.78,191.09 L172.11,190.72 L172.44,190.35 L172.76,189.99 L173.09,189.62 L173.42,189.27 L173.75,188.92 L174.08,188.58 L174.41,188.27 L174.74,187.97 L175.07,187.69 L175.39,187.44 L175.72,187.21 L176.05,187.01 L176.38,186.85 L176.71,186.71 L177.04,186.61 L177.37,186.54 L177.7,186.5 L178.02,186.5 L178.35,186.54 L178.68,186.61 L179.01,186.71 L179.34,186.85 L179.67,187.01 L180,187.21 L180.33,187.44 L180.65,187.69 L180.98,187.97 L181.31,188.27 L181.64,188.58 L181.97,188.92 L182.3,189.27 L182.63,189.62 L182.96,189.99 L183.28,190.35 L183.61,190.72 L183.94,191.09 L184.27,191.45 L184.6,191.8 L184.93,192.13 L185.26,192.46 L185.58,192.76 L185.91,193.04 L186.24,193.3 L186.57,193.53 L186.9,193.74 L187.23,193.91 L187.56,194.06 L187.89,194.17 L188.21,194.25 L188.54,194.29 L188.87,194.3 L189.2,194.27 L189.53,194.21 L189.86,194.12 L190.19,193.99 L190.52,193.83 L190.84,193.64 L191.17,193.42 L191.5,193.17 L191.83,192.9 L192.16,192.61 L192.49,192.3 L192.82,191.97 L193.15,191.62 L193.47,191.27 L193.8,190.91 L194.13,190.54 L194.46,190.17 L194.79,189.8 L195.12,189.44 L195.45,189.09 L195.78,188.75 L196.1,188.42 L196.43,188.12 L196.76,187.83 L197.09,187.56 L197.42,187.32 L197.75,187.11 L198.08,186.93 L198.41,186.78 L198.73,186.66 L199.06,186.57 L199.39,186.52 L199.72,186.5" fill="none" stroke="#2e2e2e" stroke-width="1.5" stroke-linecap="round"/>
<path d="M166.4,220.46 A19.6,13.7 0 1 0 185.6,220.46 A9.6,7.6 0 0 1 166.4,220.46 Z" fill="url(#gCgas)" stroke="#cf3d7c" stroke-width="1.3"/>
<text x="176" y="238.2" font-size="10.5" fill="#4a2233" stroke="#4a2233" stroke-width="0.34" text-anchor="middle" font-weight="normal" textLength="30" lengthAdjust="spacingAndGlyphs" >cGAS</text>
<path d="M224.5,219.42 A19.3,13.4 0 1 0 242.9,219.42 A9.2,7.2 0 0 1 224.5,219.42 Z" fill="url(#gCds)" stroke="#5c6b57" stroke-width="1.2"/>
<text x="233.7" y="236.7" font-size="10.5" fill="#2c3a2c" stroke="#2c3a2c" stroke-width="0.34" text-anchor="middle" font-weight="normal" textLength="24" lengthAdjust="spacingAndGlyphs" >CDS</text>
<text x="111.4" y="263.1" font-size="11.8" fill="#2f2f33" stroke="#2f2f33" stroke-width="0.34" text-anchor="start" font-weight="normal" textLength="59.3" lengthAdjust="spacingAndGlyphs" >2'3'cGAMP</text>
<rect x="157.1" y="275" width="38.1" height="21.4" rx="6" fill="url(#gSting)" stroke="#8e1e2c" stroke-width="0.8"/>
<text x="159.8" y="290.8" font-size="10.73" fill="#ffffff" stroke="#ffffff" stroke-width="0.12" text-anchor="start" font-weight="normal" textLength="32.8" lengthAdjust="spacingAndGlyphs" >STING</text>
<path d="M167.5,363.1 L180.3,351 L206.8,351 L220,363.1 L206.8,375.2 L180.3,375.2 Z" fill="url(#gTbk)" stroke="#6b4c9c" stroke-width="1.2"/>
<text x="177.8" y="368.1" font-size="11.36" fill="#2a2140" stroke="#2a2140" stroke-width="0.34" text-anchor="start" font-weight="normal" textLength="32.2" lengthAdjust="spacingAndGlyphs" >TBK-1</text>
<ellipse cx="214.5" cy="405.9" rx="16.3" ry="12.3" fill="url(#gIrf)" stroke="#d48c96" stroke-width="1"/>
<ellipse cx="182.8" cy="405.9" rx="16.3" ry="12.3" fill="url(#gIrf)" stroke="#d48c96" stroke-width="1"/>
<text x="171.4" y="409.6" font-size="11.54" fill="#333333" stroke="#333333" stroke-width="0.34" text-anchor="start" font-weight="normal" textLength="25" lengthAdjust="spacingAndGlyphs" >IRF3</text>
<text x="202.8" y="409.6" font-size="11.4" fill="#333333" stroke="#333333" stroke-width="0.34" text-anchor="start" font-weight="normal" textLength="24.7" lengthAdjust="spacingAndGlyphs" >IRF3</text>
<circle cx="172.7" cy="394.5" r="5" fill="#fdfdfd" stroke="#8a8a8a" stroke-width="0.9"/>
<text x="172.7" y="397.6" font-size="8.4" fill="#333333" stroke="#333333" stroke-width="0.34" text-anchor="middle" font-weight="normal" >P</text>
<circle cx="209.6" cy="394.5" r="5" fill="#fdfdfd" stroke="#8a8a8a" stroke-width="0.9"/>
<text x="209.6" y="397.6" font-size="8.4" fill="#333333" stroke="#333333" stroke-width="0.34" text-anchor="middle" font-weight="normal" >P</text>
<path d="M216.7,472.1 L217.03,472.08 L217.36,472.01 L217.68,471.89 L218.01,471.73 L218.34,471.53 L218.67,471.29 L219,471.01 L219.32,470.69 L219.65,470.35 L219.98,469.98 L220.31,469.59 L220.63,469.19 L220.96,468.77 L221.29,468.34 L221.62,467.92 L221.95,467.49 L222.27,467.08 L222.6,466.67 L222.93,466.29 L223.26,465.93 L223.59,465.6 L223.91,465.3 L224.24,465.03 L224.57,464.8 L224.9,464.61 L225.23,464.47 L225.55,464.36 L225.88,464.31 L226.21,464.3 L226.54,464.34 L226.87,464.43 L227.19,464.56 L227.52,464.73 L227.85,464.95 L228.18,465.2 L228.5,465.49 L228.83,465.82 L229.16,466.17 L229.49,466.54 L229.82,466.94 L230.14,467.35 L230.47,467.77 L230.8,468.2 L231.13,468.63 L231.46,469.05 L231.78,469.46 L232.11,469.86 L232.44,470.23 L232.77,470.58 L233.1,470.91 L233.42,471.2 L233.75,471.45 L234.08,471.67 L234.41,471.84 L234.73,471.97 L235.06,472.06 L235.39,472.1 L235.72,472.09 L236.05,472.04 L236.37,471.93 L236.7,471.79 L237.03,471.6 L237.36,471.37 L237.69,471.1 L238.01,470.8 L238.34,470.47 L238.67,470.11 L239,469.73 L239.33,469.32 L239.65,468.91 L239.98,468.48 L240.31,468.06 L240.64,467.63 L240.97,467.21 L241.29,466.81 L241.62,466.42 L241.95,466.05 L242.28,465.71 L242.6,465.39 L242.93,465.11 L243.26,464.87 L243.59,464.67 L243.92,464.51 L244.24,464.39 L244.57,464.32 L244.9,464.3" fill="none" stroke="#bf3a48" stroke-width="1.25" stroke-linecap="round"/>
<path d="M216.7,464.3 L217.03,464.32 L217.36,464.39 L217.68,464.51 L218.01,464.67 L218.34,464.87 L218.67,465.11 L219,465.39 L219.32,465.71 L219.65,466.05 L219.98,466.42 L220.31,466.81 L220.63,467.21 L220.96,467.63 L221.29,468.06 L221.62,468.48 L221.95,468.91 L222.27,469.32 L222.6,469.73 L222.93,470.11 L223.26,470.47 L223.59,470.8 L223.91,471.1 L224.24,471.37 L224.57,471.6 L224.9,471.79 L225.23,471.93 L225.55,472.04 L225.88,472.09 L226.21,472.1 L226.54,472.06 L226.87,471.97 L227.19,471.84 L227.52,471.67 L227.85,471.45 L228.18,471.2 L228.5,470.91 L228.83,470.58 L229.16,470.23 L229.49,469.86 L229.82,469.46 L230.14,469.05 L230.47,468.63 L230.8,468.2 L231.13,467.77 L231.46,467.35 L231.78,466.94 L232.11,466.54 L232.44,466.17 L232.77,465.82 L233.1,465.49 L233.42,465.2 L233.75,464.95 L234.08,464.73 L234.41,464.56 L234.73,464.43 L235.06,464.34 L235.39,464.3 L235.72,464.31 L236.05,464.36 L236.37,464.47 L236.7,464.61 L237.03,464.8 L237.36,465.03 L237.69,465.3 L238.01,465.6 L238.34,465.93 L238.67,466.29 L239,466.67 L239.33,467.08 L239.65,467.49 L239.98,467.92 L240.31,468.34 L240.64,468.77 L240.97,469.19 L241.29,469.59 L241.62,469.98 L241.95,470.35 L242.28,470.69 L242.6,471.01 L242.93,471.29 L243.26,471.53 L243.59,471.73 L243.92,471.89 L244.24,472.01 L244.57,472.08 L244.9,472.1" fill="none" stroke="#bf3a48" stroke-width="1.25" stroke-linecap="round"/>
<rect x="181.8" y="457.7" width="38.8" height="18.6" rx="0.5" fill="url(#gIsre)" stroke="#5aa84a" stroke-width="1"/>
<text x="201.2" y="471.3" font-size="11" fill="#1e2a1e" stroke="#1e2a1e" stroke-width="0.34" text-anchor="middle" font-weight="normal" textLength="27" lengthAdjust="spacingAndGlyphs" >ISRE</text>
<path d="M231.1,468.2 L231.1,457.3 L239.3,457.3" fill="none" stroke="#222" stroke-width="1.15"/>
<path d="M242.8,457.3 L238,454.6 L238,460 Z" fill="#222"/>
<text x="248.2" y="472.5" font-size="11.8" fill="#2f2f33" stroke="#2f2f33" stroke-width="0.34" text-anchor="start" font-weight="normal" textLength="42.8" lengthAdjust="spacingAndGlyphs" >IFN-α/β</text>
<text x="309" y="128.7" font-size="11.8" fill="#2f2f33" stroke="#2f2f33" stroke-width="0.34" text-anchor="start" font-weight="normal" textLength="37.8" lengthAdjust="spacingAndGlyphs" >dsDNA</text>
<path d="M305.5,140.2 L305.83,140.18 L306.16,140.13 L306.49,140.05 L306.82,139.94 L307.15,139.79 L307.48,139.62 L307.81,139.41 L308.14,139.18 L308.46,138.93 L308.79,138.65 L309.12,138.35 L309.45,138.04 L309.78,137.71 L310.11,137.37 L310.44,137.02 L310.77,136.66 L311.1,136.3 L311.43,135.94 L311.76,135.58 L312.09,135.23 L312.42,134.89 L312.75,134.56 L313.08,134.25 L313.41,133.95 L313.74,133.67 L314.06,133.42 L314.39,133.19 L314.72,132.98 L315.05,132.81 L315.38,132.66 L315.71,132.55 L316.04,132.47 L316.37,132.42 L316.7,132.4 L317.03,132.42 L317.36,132.47 L317.69,132.55 L318.02,132.66 L318.35,132.81 L318.68,132.98 L319.01,133.19 L319.34,133.42 L319.66,133.67 L319.99,133.95 L320.32,134.25 L320.65,134.56 L320.98,134.89 L321.31,135.23 L321.64,135.58 L321.97,135.94 L322.3,136.3 L322.63,136.66 L322.96,137.02 L323.29,137.37 L323.62,137.71 L323.95,138.04 L324.28,138.35 L324.61,138.65 L324.94,138.93 L325.26,139.18 L325.59,139.41 L325.92,139.62 L326.25,139.79 L326.58,139.94 L326.91,140.05 L327.24,140.13 L327.57,140.18 L327.9,140.2 L328.23,140.18 L328.56,140.13 L328.89,140.05 L329.22,139.94 L329.55,139.79 L329.88,139.62 L330.21,139.41 L330.54,139.18 L330.86,138.93 L331.19,138.65 L331.52,138.35 L331.85,138.04 L332.18,137.71 L332.51,137.37 L332.84,137.02 L333.17,136.66 L333.5,136.3 L333.83,135.94 L334.16,135.58 L334.49,135.23 L334.82,134.89 L335.15,134.56 L335.48,134.25 L335.81,133.95 L336.14,133.67 L336.46,133.42 L336.79,133.19 L337.12,132.98 L337.45,132.81 L337.78,132.66 L338.11,132.55 L338.44,132.47 L338.77,132.42 L339.1,132.4 L339.43,132.42 L339.76,132.47 L340.09,132.55 L340.42,132.66 L340.75,132.81 L341.08,132.98 L341.41,133.19 L341.74,133.42 L342.06,133.67 L342.39,133.95 L342.72,134.25 L343.05,134.56 L343.38,134.89 L343.71,135.23 L344.04,135.58 L344.37,135.94 L344.7,136.3 L345.03,136.66 L345.36,137.02 L345.69,137.37 L346.02,137.71 L346.35,138.04 L346.68,138.35 L347.01,138.65 L347.34,138.93 L347.66,139.18 L347.99,139.41 L348.32,139.62 L348.65,139.79 L348.98,139.94 L349.31,140.05 L349.64,140.13 L349.97,140.18 L350.3,140.2" fill="none" stroke="#2e2e2e" stroke-width="1.5" stroke-linecap="round"/>
<path d="M305.5,132.4 L305.83,132.42 L306.16,132.47 L306.49,132.55 L306.82,132.66 L307.15,132.81 L307.48,132.98 L307.81,133.19 L308.14,133.42 L308.46,133.67 L308.79,133.95 L309.12,134.25 L309.45,134.56 L309.78,134.89 L310.11,135.23 L310.44,135.58 L310.77,135.94 L311.1,136.3 L311.43,136.66 L311.76,137.02 L312.09,137.37 L312.42,137.71 L312.75,138.04 L313.08,138.35 L313.41,138.65 L313.74,138.93 L314.06,139.18 L314.39,139.41 L314.72,139.62 L315.05,139.79 L315.38,139.94 L315.71,140.05 L316.04,140.13 L316.37,140.18 L316.7,140.2 L317.03,140.18 L317.36,140.13 L317.69,140.05 L318.02,139.94 L318.35,139.79 L318.68,139.62 L319.01,139.41 L319.34,139.18 L319.66,138.93 L319.99,138.65 L320.32,138.35 L320.65,138.04 L320.98,137.71 L321.31,137.37 L321.64,137.02 L321.97,136.66 L322.3,136.3 L322.63,135.94 L322.96,135.58 L323.29,135.23 L323.62,134.89 L323.95,134.56 L324.28,134.25 L324.61,133.95 L324.94,133.67 L325.26,133.42 L325.59,133.19 L325.92,132.98 L326.25,132.81 L326.58,132.66 L326.91,132.55 L327.24,132.47 L327.57,132.42 L327.9,132.4 L328.23,132.42 L328.56,132.47 L328.89,132.55 L329.22,132.66 L329.55,132.81 L329.88,132.98 L330.21,133.19 L330.54,133.42 L330.86,133.67 L331.19,133.95 L331.52,134.25 L331.85,134.56 L332.18,134.89 L332.51,135.23 L332.84,135.58 L333.17,135.94 L333.5,136.3 L333.83,136.66 L334.16,137.02 L334.49,137.37 L334.82,137.71 L335.15,138.04 L335.48,138.35 L335.81,138.65 L336.14,138.93 L336.46,139.18 L336.79,139.41 L337.12,139.62 L337.45,139.79 L337.78,139.94 L338.11,140.05 L338.44,140.13 L338.77,140.18 L339.1,140.2 L339.43,140.18 L339.76,140.13 L340.09,140.05 L340.42,139.94 L340.75,139.79 L341.08,139.62 L341.41,139.41 L341.74,139.18 L342.06,138.93 L342.39,138.65 L342.72,138.35 L343.05,138.04 L343.38,137.71 L343.71,137.37 L344.04,137.02 L344.37,136.66 L344.7,136.3 L345.03,135.94 L345.36,135.58 L345.69,135.23 L346.02,134.89 L346.35,134.56 L346.68,134.25 L347.01,133.95 L347.34,133.67 L347.66,133.42 L347.99,133.19 L348.32,132.98 L348.65,132.81 L348.98,132.66 L349.31,132.55 L349.64,132.47 L349.97,132.42 L350.3,132.4" fill="none" stroke="#2e2e2e" stroke-width="1.5" stroke-linecap="round"/>
<ellipse cx="323.4" cy="174.1" rx="19.1" ry="12.9" fill="url(#gPol)" stroke="#e6d05c" stroke-width="1.1"/>
<text x="308.2" y="178.2" font-size="11.34" fill="#2e2a14" stroke="#2e2a14" stroke-width="0.34" text-anchor="start" font-weight="normal" textLength="29" lengthAdjust="spacingAndGlyphs" >Pol III</text>
<text x="302.6" y="212.2" font-size="11.8" fill="#2f2f33" stroke="#2f2f33" stroke-width="0.34" text-anchor="start" font-weight="normal" textLength="54.4" lengthAdjust="spacingAndGlyphs" >5’pppRNA</text>
<path d="M329.8,219.9 L330.13,219.92 L330.47,219.97 L330.8,220.05 L331.13,220.17 L331.47,220.32 L331.8,220.49 L332.13,220.68 L332.47,220.89 L332.8,221.11 L333.13,221.35 L333.47,221.58 L333.8,221.81 L334.13,222.04 L334.47,222.26 L334.8,222.46 L335.13,222.63 L335.47,222.79 L335.8,222.91 L336.13,223.01 L336.47,223.07 L336.8,223.1 L337.13,223.09 L337.47,223.05 L337.8,222.98 L338.13,222.87 L338.47,222.73 L338.8,222.57 L339.13,222.38 L339.47,222.18 L339.8,221.96 L340.13,221.73 L340.47,221.49 L340.8,221.26 L341.13,221.03 L341.47,220.81 L341.8,220.61 L342.13,220.42 L342.47,220.26 L342.8,220.12 L343.13,220.02 L343.47,219.95 L343.8,219.91 L344.13,219.9 L344.47,219.93 L344.8,220 L345.13,220.09 L345.47,220.22 L345.8,220.38 L346.13,220.55 L346.47,220.75 L346.8,220.97 L347.13,221.2 L347.47,221.43 L347.8,221.67 L348.13,221.9 L348.47,222.12 L348.8,222.33 L349.13,222.52 L349.47,222.69 L349.8,222.84 L350.13,222.95 L350.47,223.03 L350.8,223.08 L351.13,223.1 L351.47,223.08 L351.8,223.03 L352.13,222.94 L352.47,222.82 L352.8,222.68 L353.13,222.5 L353.47,222.31 L353.8,222.1 L354.13,221.88 L354.47,221.64 L354.8,221.41 L355.13,221.17 L355.47,220.95 L355.8,220.73 L356.13,220.53 L356.47,220.36 L356.8,220.21" fill="none" stroke="#2e2e2e" stroke-width="1.4" stroke-linecap="round"/>
<circle cx="303.8" cy="221.1" r="5" fill="#fafafa" stroke="#9a9a9a" stroke-width="1"/>
<text x="303.8" y="224.1" font-size="8.2" fill="#2a2a2a" stroke="#2a2a2a" stroke-width="0.34" text-anchor="middle" font-weight="bold" >P</text>
<circle cx="313.9" cy="221.1" r="5" fill="#fafafa" stroke="#9a9a9a" stroke-width="1"/>
<text x="313.9" y="224.1" font-size="8.2" fill="#2a2a2a" stroke="#2a2a2a" stroke-width="0.34" text-anchor="middle" font-weight="bold" >P</text>
<circle cx="324.3" cy="221.1" r="5" fill="#fafafa" stroke="#9a9a9a" stroke-width="1"/>
<text x="324.3" y="224.1" font-size="8.2" fill="#2a2a2a" stroke="#2a2a2a" stroke-width="0.34" text-anchor="middle" font-weight="bold" >P</text>
<path d="M313.7,244.11 A19.8,12.8 0 1 0 334.5,244.11 A10.4,7.6 0 0 1 313.7,244.11 Z" fill="#2b3a86" stroke="#22306e" stroke-width="0.8"/>
<text x="311.4" y="261.5" font-size="11.01" fill="#ffffff" stroke="#ffffff" stroke-width="0.12" text-anchor="start" font-weight="normal" textLength="26.3" lengthAdjust="spacingAndGlyphs" >RIG-I</text>
<text x="404.2" y="163.9" font-size="11.8" fill="#2f2f33" stroke="#2f2f33" stroke-width="0.34" text-anchor="start" font-weight="normal" textLength="54" lengthAdjust="spacingAndGlyphs" >5’pppRNA</text>
<path d="M430.8,171.7 L431.13,171.72 L431.47,171.77 L431.8,171.86 L432.14,171.98 L432.47,172.13 L432.8,172.31 L433.14,172.51 L433.47,172.73 L433.81,172.96 L434.14,173.21 L434.48,173.45 L434.81,173.7 L435.14,173.94 L435.48,174.17 L435.81,174.38 L436.15,174.57 L436.48,174.74 L436.81,174.87 L437.15,174.98 L437.48,175.06 L437.82,175.09 L438.15,175.1 L438.49,175.06 L438.82,175 L439.15,174.89 L439.49,174.76 L439.82,174.6 L440.16,174.41 L440.49,174.2 L440.82,173.97 L441.16,173.74 L441.49,173.49 L441.83,173.24 L442.16,173 L442.5,172.76 L442.83,172.54 L443.16,172.34 L443.5,172.16 L443.83,172 L444.17,171.88 L444.5,171.78 L444.83,171.72 L445.17,171.7 L445.5,171.71 L445.84,171.76 L446.17,171.84 L446.5,171.96 L446.84,172.11 L447.17,172.28 L447.51,172.48 L447.84,172.69 L448.18,172.92 L448.51,173.17 L448.84,173.41 L449.18,173.66 L449.51,173.9 L449.85,174.13 L450.18,174.35 L450.51,174.54 L450.85,174.71 L451.18,174.85 L451.52,174.97 L451.85,175.05 L452.19,175.09 L452.52,175.1 L452.85,175.07 L453.19,175.01 L453.52,174.91 L453.86,174.78 L454.19,174.62 L454.52,174.44 L454.86,174.23 L455.19,174.01 L455.53,173.77 L455.86,173.53 L456.2,173.28 L456.53,173.04 L456.86,172.8 L457.2,172.58 L457.53,172.37 L457.87,172.18 L458.2,172.02" fill="none" stroke="#2e2e2e" stroke-width="1.4" stroke-linecap="round"/>
<circle cx="404.8" cy="173.5" r="4.8" fill="#fafafa" stroke="#9a9a9a" stroke-width="1"/>
<text x="404.8" y="176.5" font-size="8.2" fill="#2a2a2a" stroke="#2a2a2a" stroke-width="0.34" text-anchor="middle" font-weight="bold" >P</text>
<circle cx="415.5" cy="173.5" r="4.8" fill="#fafafa" stroke="#9a9a9a" stroke-width="1"/>
<text x="415.5" y="176.5" font-size="8.2" fill="#2a2a2a" stroke="#2a2a2a" stroke-width="0.34" text-anchor="middle" font-weight="bold" >P</text>
<circle cx="426" cy="173.5" r="4.8" fill="#fafafa" stroke="#9a9a9a" stroke-width="1"/>
<text x="426" y="176.5" font-size="8.2" fill="#2a2a2a" stroke="#2a2a2a" stroke-width="0.34" text-anchor="middle" font-weight="bold" >P</text>
<rect x="419.2" y="222.4" width="37.6" height="19.4" rx="6" fill="url(#gMavs)" stroke="#e0863a" stroke-width="1"/>
<text x="421.8" y="236.4" font-size="11.74" fill="#2a2418" stroke="#2a2418" stroke-width="0.34" text-anchor="start" font-weight="normal" textLength="32.4" lengthAdjust="spacingAndGlyphs" >MAVS</text>
<path d="M346.8,289.27 A19.2,12.9 0 1 0 364,289.27 A8.6,7 0 0 1 346.8,289.27 Z" fill="#2b3a86" stroke="#22306e" stroke-width="0.8" transform="rotate(-90 355.4 300.8)"/>
<text x="0" y="0" font-size="11.2" fill="#ffffff" stroke="#ffffff" stroke-width="0.12" textLength="27" lengthAdjust="spacingAndGlyphs" transform="translate(360.6,314.6) rotate(-90)">RIG-I</text>
<rect x="369" y="288.2" width="36.2" height="18.6" rx="6" fill="url(#gMavs)" stroke="#e0863a" stroke-width="1"/>
<text x="371.6" y="301.2" font-size="11.23" fill="#2a2418" stroke="#2a2418" stroke-width="0.34" text-anchor="start" font-weight="normal" textLength="31" lengthAdjust="spacingAndGlyphs" >MAVS</text>
<rect x="362.8" y="306" width="40" height="21.2" rx="6.5" fill="url(#gSting)" stroke="#8e1e2c" stroke-width="0.8"/>
<text x="366" y="321" font-size="11" fill="#ffffff" stroke="#ffffff" stroke-width="0.12" text-anchor="start" font-weight="normal" textLength="33.6" lengthAdjust="spacingAndGlyphs" >STING</text>
<text x="0" y="0" font-size="9.6" fill="#2a2a2a" stroke="#2a2a2a" stroke-width="0.3" textLength="23" lengthAdjust="spacingAndGlyphs" transform="translate(384.6,353.2) rotate(-90)">MAM</text>
<path d="M436.7,335.3 L459.7,340.7 L459.7,353.7 L436.7,359.2 L414.3,353.7 L414.3,340.7 Z" fill="url(#gIkk)" stroke="#76b878" stroke-width="1.1"/>
<text x="425.5" y="351" font-size="11.8" fill="#1f2a1f" stroke="#1f2a1f" stroke-width="0.34" text-anchor="start" font-weight="normal" textLength="19.3" lengthAdjust="spacingAndGlyphs" >IKK</text>
<rect x="417" y="375.9" width="38" height="18.1" rx="0.5" fill="url(#gNfkb)" stroke="#3f9fc6" stroke-width="1"/>
<text x="419.6" y="389.3" font-size="11.58" fill="#0f1f2c" stroke="#0f1f2c" stroke-width="0.34" text-anchor="start" font-weight="normal" textLength="32.8" lengthAdjust="spacingAndGlyphs" >NF-kB</text>
<path d="M328.2,454.4 L328.53,454.38 L328.85,454.31 L329.18,454.2 L329.5,454.04 L329.83,453.84 L330.16,453.6 L330.48,453.33 L330.81,453.02 L331.13,452.69 L331.46,452.33 L331.78,451.94 L332.11,451.54 L332.44,451.13 L332.76,450.71 L333.09,450.29 L333.41,449.87 L333.74,449.46 L334.07,449.06 L334.39,448.67 L334.72,448.31 L335.04,447.98 L335.37,447.67 L335.69,447.4 L336.02,447.16 L336.35,446.96 L336.67,446.8 L337,446.69 L337.32,446.62 L337.65,446.6 L337.98,446.62 L338.3,446.69 L338.63,446.8 L338.95,446.96 L339.28,447.16 L339.61,447.4 L339.93,447.67 L340.26,447.98 L340.58,448.31 L340.91,448.67 L341.23,449.06 L341.56,449.46 L341.89,449.87 L342.21,450.29 L342.54,450.71 L342.86,451.13 L343.19,451.54 L343.52,451.94 L343.84,452.33 L344.17,452.69 L344.49,453.02 L344.82,453.33 L345.14,453.6 L345.47,453.84 L345.8,454.04 L346.12,454.2 L346.45,454.31 L346.77,454.38 L347.1,454.4 L347.43,454.38 L347.75,454.31 L348.08,454.2 L348.4,454.04 L348.73,453.84 L349.06,453.6 L349.38,453.33 L349.71,453.02 L350.03,452.69 L350.36,452.33 L350.68,451.94 L351.01,451.54 L351.34,451.13 L351.66,450.71 L351.99,450.29 L352.31,449.87 L352.64,449.46 L352.97,449.06 L353.29,448.67 L353.62,448.31 L353.94,447.98 L354.27,447.67 L354.59,447.4 L354.92,447.16 L355.25,446.96 L355.57,446.8 L355.9,446.69 L356.22,446.62 L356.55,446.6" fill="none" stroke="#bf3a48" stroke-width="1.25" stroke-linecap="round"/>
<path d="M328.2,446.6 L328.53,446.62 L328.85,446.69 L329.18,446.8 L329.5,446.96 L329.83,447.16 L330.16,447.4 L330.48,447.67 L330.81,447.98 L331.13,448.31 L331.46,448.67 L331.78,449.06 L332.11,449.46 L332.44,449.87 L332.76,450.29 L333.09,450.71 L333.41,451.13 L333.74,451.54 L334.07,451.94 L334.39,452.33 L334.72,452.69 L335.04,453.02 L335.37,453.33 L335.69,453.6 L336.02,453.84 L336.35,454.04 L336.67,454.2 L337,454.31 L337.32,454.38 L337.65,454.4 L337.98,454.38 L338.3,454.31 L338.63,454.2 L338.95,454.04 L339.28,453.84 L339.61,453.6 L339.93,453.33 L340.26,453.02 L340.58,452.69 L340.91,452.33 L341.23,451.94 L341.56,451.54 L341.89,451.13 L342.21,450.71 L342.54,450.29 L342.86,449.87 L343.19,449.46 L343.52,449.06 L343.84,448.67 L344.17,448.31 L344.49,447.98 L344.82,447.67 L345.14,447.4 L345.47,447.16 L345.8,446.96 L346.12,446.8 L346.45,446.69 L346.77,446.62 L347.1,446.6 L347.43,446.62 L347.75,446.69 L348.08,446.8 L348.4,446.96 L348.73,447.16 L349.06,447.4 L349.38,447.67 L349.71,447.98 L350.03,448.31 L350.36,448.67 L350.68,449.06 L351.01,449.46 L351.34,449.87 L351.66,450.29 L351.99,450.71 L352.31,451.13 L352.64,451.54 L352.97,451.94 L353.29,452.33 L353.62,452.69 L353.94,453.02 L354.27,453.33 L354.59,453.6 L354.92,453.84 L355.25,454.04 L355.57,454.2 L355.9,454.31 L356.22,454.38 L356.55,454.4" fill="none" stroke="#bf3a48" stroke-width="1.25" stroke-linecap="round"/>
<rect x="289.4" y="436.9" width="38.9" height="19" rx="0.5" fill="url(#gNfkb)" stroke="#3f9fc6" stroke-width="1"/>
<text x="308.85" y="450.9" font-size="11" fill="#0f1f2c" stroke="#0f1f2c" stroke-width="0.34" text-anchor="middle" font-weight="normal" textLength="32.5" lengthAdjust="spacingAndGlyphs" >NF-kB</text>
<path d="M342.3,450.5 L342.3,438.2 L351.7,438.2" fill="none" stroke="#222" stroke-width="1.15"/>
<path d="M355.2,438.2 L350.4,435.5 L350.4,440.9 Z" fill="#222"/>
<text x="360.7" y="438.6" font-size="11.8" fill="#2f2f33" stroke="#2f2f33" stroke-width="0.34" text-anchor="start" font-weight="normal" textLength="92.3" lengthAdjust="spacingAndGlyphs" >Pro-inflammatory</text>
<text x="360.2" y="453" font-size="11.8" fill="#2f2f33" stroke="#2f2f33" stroke-width="0.34" text-anchor="start" font-weight="normal" textLength="50.3" lengthAdjust="spacingAndGlyphs" >cytokines</text>
<path d="M452.6,472.8 L452.93,472.78 L453.25,472.71 L453.58,472.6 L453.91,472.45 L454.24,472.25 L454.56,472.02 L454.89,471.75 L455.22,471.45 L455.55,471.12 L455.87,470.77 L456.2,470.39 L456.53,470 L456.85,469.59 L457.18,469.18 L457.51,468.76 L457.84,468.34 L458.16,467.94 L458.49,467.54 L458.82,467.15 L459.15,466.79 L459.47,466.45 L459.8,466.14 L460.13,465.86 L460.45,465.62 L460.78,465.41 L461.11,465.25 L461.44,465.12 L461.76,465.04 L462.09,465 L462.42,465.01 L462.75,465.06 L463.07,465.16 L463.4,465.3 L463.73,465.48 L464.05,465.7 L464.38,465.95 L464.71,466.24 L465.04,466.56 L465.36,466.91 L465.69,467.28 L466.02,467.67 L466.35,468.07 L466.67,468.48 L467,468.9 L467.33,469.32 L467.65,469.73 L467.98,470.13 L468.31,470.52 L468.64,470.89 L468.96,471.24 L469.29,471.56 L469.62,471.85 L469.95,472.1 L470.27,472.32 L470.6,472.5 L470.93,472.64 L471.25,472.74 L471.58,472.79 L471.91,472.8 L472.24,472.76 L472.56,472.68 L472.89,472.55 L473.22,472.39 L473.55,472.18 L473.87,471.94 L474.2,471.66 L474.53,471.35 L474.85,471.01 L475.18,470.65 L475.51,470.26 L475.84,469.86 L476.16,469.46 L476.49,469.04 L476.82,468.62 L477.15,468.21 L477.47,467.8 L477.8,467.41 L478.13,467.03 L478.45,466.68 L478.78,466.35 L479.11,466.05 L479.44,465.78 L479.76,465.55 L480.09,465.35 L480.42,465.2 L480.75,465.09 L481.07,465.02 L481.4,465" fill="none" stroke="#bf3a48" stroke-width="1.25" stroke-linecap="round"/>
<path d="M452.6,465 L452.93,465.02 L453.25,465.09 L453.58,465.2 L453.91,465.35 L454.24,465.55 L454.56,465.78 L454.89,466.05 L455.22,466.35 L455.55,466.68 L455.87,467.03 L456.2,467.41 L456.53,467.8 L456.85,468.21 L457.18,468.62 L457.51,469.04 L457.84,469.46 L458.16,469.86 L458.49,470.26 L458.82,470.65 L459.15,471.01 L459.47,471.35 L459.8,471.66 L460.13,471.94 L460.45,472.18 L460.78,472.39 L461.11,472.55 L461.44,472.68 L461.76,472.76 L462.09,472.8 L462.42,472.79 L462.75,472.74 L463.07,472.64 L463.4,472.5 L463.73,472.32 L464.05,472.1 L464.38,471.85 L464.71,471.56 L465.04,471.24 L465.36,470.89 L465.69,470.52 L466.02,470.13 L466.35,469.73 L466.67,469.32 L467,468.9 L467.33,468.48 L467.65,468.07 L467.98,467.67 L468.31,467.28 L468.64,466.91 L468.96,466.56 L469.29,466.24 L469.62,465.95 L469.95,465.7 L470.27,465.48 L470.6,465.3 L470.93,465.16 L471.25,465.06 L471.58,465.01 L471.91,465 L472.24,465.04 L472.56,465.12 L472.89,465.25 L473.22,465.41 L473.55,465.62 L473.87,465.86 L474.2,466.14 L474.53,466.45 L474.85,466.79 L475.18,467.15 L475.51,467.54 L475.84,467.94 L476.16,468.34 L476.49,468.76 L476.82,469.18 L477.15,469.59 L477.47,470 L477.8,470.39 L478.13,470.77 L478.45,471.12 L478.78,471.45 L479.11,471.75 L479.44,472.02 L479.76,472.25 L480.09,472.45 L480.42,472.6 L480.75,472.71 L481.07,472.78 L481.4,472.8" fill="none" stroke="#bf3a48" stroke-width="1.25" stroke-linecap="round"/>
<rect x="417.9" y="458.2" width="38.2" height="18.2" rx="0.5" fill="url(#gIsre)" stroke="#5aa84a" stroke-width="1"/>
<text x="437" y="471.4" font-size="11" fill="#1e2a1e" stroke="#1e2a1e" stroke-width="0.34" text-anchor="middle" font-weight="normal" textLength="27" lengthAdjust="spacingAndGlyphs" >ISRE</text>
<path d="M466.9,468.9 L466.9,457.9 L475,457.9" fill="none" stroke="#222" stroke-width="1.15"/>
<path d="M478.5,457.9 L473.7,455.2 L473.7,460.6 Z" fill="#222"/>
<text x="483.9" y="451.8" font-size="10.62" fill="#2f2f33" stroke="#2f2f33" stroke-width="0.34" text-anchor="start" font-weight="normal" textLength="23.6" lengthAdjust="spacingAndGlyphs" >ISGs</text>
<text x="483.9" y="465.7" font-size="10.89" fill="#2f2f33" stroke="#2f2f33" stroke-width="0.34" text-anchor="start" font-weight="normal" textLength="61.1" lengthAdjust="spacingAndGlyphs" >(e.g. STING,</text>
<text x="483.9" y="479.6" font-size="11.11" fill="#2f2f33" stroke="#2f2f33" stroke-width="0.34" text-anchor="start" font-weight="normal" textLength="82.1" lengthAdjust="spacingAndGlyphs" >RIG-I and others</text>
<linearGradient id="gRL" x1="0" y1="0" x2="0" y2="1"><stop offset="0" stop-color="#3f8a3a"/><stop offset="0.42" stop-color="#5e9f52"/><stop offset="1" stop-color="#f2f8f0"/></linearGradient>
<linearGradient id="gRR" x1="0" y1="0" x2="0" y2="1"><stop offset="0" stop-color="#cfe594"/><stop offset="0.42" stop-color="#a6cb68"/><stop offset="1" stop-color="#f6fbec"/></linearGradient>
<linearGradient id="gRL" x1="0" y1="0" x2="0" y2="1"><stop offset="0" stop-color="#3e8b3a"/><stop offset="0.45" stop-color="#66a35a"/><stop offset="1" stop-color="#eef5ec"/></linearGradient>
<linearGradient id="gRR" x1="0" y1="0" x2="0" y2="1"><stop offset="0" stop-color="#d3e79a"/><stop offset="0.45" stop-color="#b3d476"/><stop offset="1" stop-color="#f8fcef"/></linearGradient>
<path d="M514.85,76.3 A11.8,11.8 0 0 1 503.31,62.05 Q502.31,58.85 500.61,60.25 A20.5,20.5 0 0 0 507.55,94.16 Q507.55,95.96 507.55,98.66 L507.55,129.4 L514.85,129.4 Z" fill="url(#gRL)" stroke="#3f8b3b" stroke-width="1.3"/>
<path d="M514.85,76.3 A11.8,11.8 0 0 1 503.31,62.05 Q502.31,58.85 500.61,60.25 A20.5,20.5 0 0 0 507.55,94.16 Q507.55,95.96 507.55,98.66 L507.55,129.4 L514.85,129.4 Z" fill="url(#gRR)" stroke="#84b84a" stroke-width="1.3" transform="translate(1029.7 0) scale(-1 1)"/>
<line x1="514.85" y1="77" x2="514.85" y2="129" stroke="#3f8b3b" stroke-width="1.2"/>
<rect x="507.1" y="128.6" width="37.7" height="18.8" rx="6.5" fill="url(#gJak)" stroke="#55462e" stroke-width="1.3"/>
<text x="515.6" y="142.2" font-size="11.12" fill="#231d12" stroke="#231d12" stroke-width="0.34" text-anchor="start" font-weight="normal" textLength="20.4" lengthAdjust="spacingAndGlyphs" >JAK</text>
<linearGradient id="gSL" x1="0" y1="0" x2="1" y2="0"><stop offset="0" stop-color="#f6f9fd"/><stop offset="0.55" stop-color="#e6eef8"/><stop offset="1" stop-color="#98b1d8"/></linearGradient>
<path d="M528.6,329.4 L509,329.4 Q505.2,329.4 505.2,333 L505.2,336 Q505.2,339.5 509,339.5 L511.6,339.5 Q515.3,339.5 515.3,343.2 L515.3,357.7 Q515.3,361.4 511.6,361.4 L509,361.4 Q505.2,361.4 505.2,365 L505.2,368 Q505.2,371.6 509,371.6 L528.6,371.6 Z" fill="url(#gSL)" stroke="#a3b9dc" stroke-width="1.1"/>
<path d="M528.6,329.4 L509,329.4 Q505.2,329.4 505.2,333 L505.2,336 Q505.2,339.5 509,339.5 L511.6,339.5 Q515.3,339.5 515.3,343.2 L515.3,357.7 Q515.3,361.4 511.6,361.4 L509,361.4 Q505.2,361.4 505.2,365 L505.2,368 Q505.2,371.6 509,371.6 L528.6,371.6 Z" fill="url(#gSL)" stroke="#a3b9dc" stroke-width="1.1" transform="translate(1057.8 0) scale(-1 1)"/>
<text x="0" y="0" font-size="10.8" fill="#272d3a" stroke="#272d3a" stroke-width="0.4" textLength="33" lengthAdjust="spacingAndGlyphs" transform="translate(525.6,367) rotate(-90)">STAT1</text>
<text x="0" y="0" font-size="10.8" fill="#272d3a" stroke="#272d3a" stroke-width="0.4" textLength="33" lengthAdjust="spacingAndGlyphs" transform="translate(541.2,367) rotate(-90)">STAT2</text>
<ellipse cx="528.1" cy="380.9" rx="18.4" ry="12.1" fill="url(#gIrf)" stroke="#d48c96" stroke-width="1"/>
<text x="516.9" y="384.8" font-size="11.54" fill="#333333" stroke="#333333" stroke-width="0.34" text-anchor="start" font-weight="normal" textLength="25" lengthAdjust="spacingAndGlyphs" >IRF9</text>
<path d="M515.3,34.5 L516.12,36.47 L518.25,36.64 L516.63,38.03 L517.12,40.11 L515.3,39 L513.48,40.11 L513.97,38.03 L512.35,36.64 L514.48,36.47Z" fill="#d3272b"/>
<path d="M533.2,36.3 L534.02,38.27 L536.15,38.44 L534.53,39.83 L535.02,41.91 L533.2,40.8 L531.38,41.91 L531.87,39.83 L530.25,38.44 L532.38,38.27Z" fill="#d3272b"/>
<path d="M490.8,48.6 L491.62,50.57 L493.75,50.74 L492.13,52.13 L492.62,54.21 L490.8,53.1 L488.98,54.21 L489.47,52.13 L487.85,50.74 L489.98,50.57Z" fill="#d3272b"/>
<path d="M519.6,59.5 L520.42,61.47 L522.55,61.64 L520.93,63.03 L521.42,65.11 L519.6,64 L517.78,65.11 L518.27,63.03 L516.65,61.64 L518.78,61.47Z" fill="#d3272b"/>
<path d="M510.7,66.7 L511.52,68.67 L513.65,68.84 L512.03,70.23 L512.52,72.31 L510.7,71.19 L508.88,72.31 L509.37,70.23 L507.75,68.84 L509.88,68.67Z" fill="#d3272b"/>
<path d="M558.5,47.3 L559.32,49.27 L561.45,49.44 L559.83,50.83 L560.32,52.91 L558.5,51.8 L556.68,52.91 L557.17,50.83 L555.55,49.44 L557.68,49.27Z" fill="#d3272b"/>
<path d="M586.4,48.8 L587.22,50.77 L589.35,50.94 L587.73,52.33 L588.22,54.41 L586.4,53.3 L584.58,54.41 L585.07,52.33 L583.45,50.94 L585.58,50.77Z" fill="#d3272b"/>
<path d="M576.1,64.4 L576.92,66.37 L579.05,66.54 L577.43,67.93 L577.92,70.01 L576.1,68.89 L574.28,70.01 L574.77,67.93 L573.15,66.54 L575.28,66.37Z" fill="#d3272b"/>
<path d="M605,69.7 L605.82,71.67 L607.95,71.84 L606.33,73.23 L606.82,75.31 L605,74.19 L603.18,75.31 L603.67,73.23 L602.05,71.84 L604.18,71.67Z" fill="#d3272b"/>
<path d="M598.5,95.1 L599.32,97.07 L601.45,97.24 L599.83,98.63 L600.32,100.71 L598.5,99.59 L596.68,100.71 L597.17,98.63 L595.55,97.24 L597.68,97.07Z" fill="#d3272b"/>
<path d="M582.9,131.7 L583.72,133.67 L585.85,133.84 L584.23,135.23 L584.72,137.31 L582.9,136.2 L581.08,137.31 L581.57,135.23 L579.95,133.84 L582.08,133.67Z" fill="#d3272b"/>
<path d="M599.2,145.9 L600.02,147.87 L602.15,148.04 L600.53,149.43 L601.02,151.51 L599.2,150.4 L597.38,151.51 L597.87,149.43 L596.25,148.04 L598.38,147.87Z" fill="#d3272b"/>
<path d="M584.5,175.6 L585.32,177.57 L587.45,177.74 L585.83,179.13 L586.32,181.21 L584.5,180.09 L582.68,181.21 L583.17,179.13 L581.55,177.74 L583.68,177.57Z" fill="#d3272b"/>
<path d="M566.8,193.3 L567.62,195.27 L569.75,195.44 L568.13,196.83 L568.62,198.91 L566.8,197.8 L564.98,198.91 L565.47,196.83 L563.85,195.44 L565.98,195.27Z" fill="#d3272b"/>
<path d="M584.5,200.5 L585.32,202.47 L587.45,202.64 L585.83,204.03 L586.32,206.11 L584.5,205 L582.68,206.11 L583.17,204.03 L581.55,202.64 L583.68,202.47Z" fill="#d3272b"/>
<path d="M598.4,200 L599.22,201.97 L601.35,202.14 L599.73,203.53 L600.22,205.61 L598.4,204.5 L596.58,205.61 L597.07,203.53 L595.45,202.14 L597.58,201.97Z" fill="#d3272b"/>
<path d="M569.9,226.8 L570.72,228.77 L572.85,228.94 L571.23,230.33 L571.72,232.41 L569.9,231.3 L568.08,232.41 L568.57,230.33 L566.95,228.94 L569.08,228.77Z" fill="#d3272b"/>
<path d="M557.6,244.2 L558.42,246.17 L560.55,246.34 L558.93,247.73 L559.42,249.81 L557.6,248.7 L555.78,249.81 L556.27,247.73 L554.65,246.34 L556.78,246.17Z" fill="#d3272b"/>
<path d="M598.6,239.3 L599.42,241.27 L601.55,241.44 L599.93,242.83 L600.42,244.91 L598.6,243.8 L596.78,244.91 L597.27,242.83 L595.65,241.44 L597.78,241.27Z" fill="#d3272b"/>
<path d="M573.1,255.8 L573.92,257.77 L576.05,257.94 L574.43,259.33 L574.92,261.41 L573.1,260.29 L571.28,261.41 L571.77,259.33 L570.15,257.94 L572.28,257.77Z" fill="#d3272b"/>
<path d="M563.4,263.4 L564.22,265.37 L566.35,265.54 L564.73,266.93 L565.22,269.01 L563.4,267.89 L561.58,269.01 L562.07,266.93 L560.45,265.54 L562.58,265.37Z" fill="#d3272b"/>
<path d="M592.3,265.3 L593.12,267.27 L595.25,267.44 L593.63,268.83 L594.12,270.91 L592.3,269.79 L590.48,270.91 L590.97,268.83 L589.35,267.44 L591.48,267.27Z" fill="#d3272b"/>
<path d="M543.2,270.4 L544.02,272.37 L546.15,272.54 L544.53,273.93 L545.02,276.01 L543.2,274.89 L541.38,276.01 L541.87,273.93 L540.25,272.54 L542.38,272.37Z" fill="#d3272b"/>
<path d="M601,283.5 L601.82,285.47 L603.95,285.64 L602.33,287.03 L602.82,289.11 L601,288 L599.18,289.11 L599.67,287.03 L598.05,285.64 L600.18,285.47Z" fill="#d3272b"/>
<text x="496.1" y="55.8" font-size="11.8" fill="#2f2f33" stroke="#2f2f33" stroke-width="0.34" text-anchor="start" font-weight="normal" textLength="42.8" lengthAdjust="spacingAndGlyphs" >IFN-α/β</text>
<text x="531.1" y="98.8" font-size="11.8" fill="#2f2f33" stroke="#2f2f33" stroke-width="0.34" text-anchor="start" font-weight="normal" textLength="53.3" lengthAdjust="spacingAndGlyphs" >IFNAR1/2</text>
<text x="545.8" y="285.3" font-size="11.8" fill="#2f2f33" stroke="#2f2f33" stroke-width="0.34" text-anchor="start" font-weight="normal" textLength="43.2" lengthAdjust="spacingAndGlyphs" >IFN-α/β</text>
<g>
<ellipse cx="508.2" cy="473.2" rx="6.8" ry="5.9" fill="#ffffff" fill-opacity="0.92" stroke="#a9a3ae" stroke-width="0.9"/>
<ellipse cx="513.9" cy="478.4" rx="6.6" ry="5.5" fill="#ffffff" fill-opacity="0.95" stroke="#a9a3ae" stroke-width="0.9"/>
<path d="M503.5,477.5 L502.6,480.2 L506,478.6 Z" fill="#ffffff" stroke="#a9a3ae" stroke-width="0.6"/>
<circle cx="505.6" cy="471.6" r="0.95" fill="#a9a3ae"/><circle cx="510.4" cy="471.6" r="0.95" fill="#a9a3ae"/>
<circle cx="511.6" cy="477.4" r="0.8" fill="#a9a3ae"/><circle cx="516.0" cy="477.4" r="0.8" fill="#a9a3ae"/>
<path d="M526.42,472.6 L527.44,473.6 M525.4,476.1 L527.44,476.1 L527.44,480.6 L525.4,482.1 M526.93,481.6 L537.64,482.1 M529.48,474.6 L537.13,474.6 M533.36,471.1 L533.05,475.6 L529.48,480.6 M533.36,475.6 L537.13,480.1 M539.62,472.1 L543.7,471.4 M538.6,474.6 L543.7,474.6 M541.15,471.4 L541.15,482.6 M541.15,475.6 L538.6,479.6 M541.15,476.1 L543.7,478.6 M545.23,472.6 L546.25,473.6 M545.23,475.6 L546.25,476.6 M544.21,479.1 L550.84,478.1 M548.8,470.6 L548.8,482.6 M554.86,471.4 L555.88,473.4 M552.31,475.1 L562,475.1 L561.49,481.6 L559.45,480.8 M557.92,470.6 L557.41,477.1 L552.82,482.1 M557.41,477.8 L558.74,479.1 M568.06,471.6 L566.02,475.6 M567.24,474.8 L576.22,474.8 M571.32,470.6 L571.32,481.6 M567.04,478.2 L575.71,478.2 M565,481.8 L577.24,481.8 M579.42,472.1 L578.4,475.6 M578.2,474.8 L583.3,474.8 M580.75,470.6 L580.75,482.6 M578.2,480.1 L583.3,477.6 M585.34,470.6 L584.32,474.6 M584.52,473.6 L590.44,473.6 L589.93,482.1 L588.4,481.4 M587.18,473.6 L584.32,480.6 M588.71,473.6 L585.85,482.1 M591.4,475.6 L595.48,475.6 M593.44,471.6 L593.44,480.6 M591.4,482.1 L595.99,479.6 M596.5,473.6 L603.64,473.6 M597.52,473.6 L597.52,478.6 L596.5,482.1 M597.52,476.6 L600.58,476.6 L600.07,479.6 M600.58,470.6 L601.19,476.6 L603.64,482.1 M602.62,471.4 L603.64,472.6 M603.64,477.6 L601.6,480.6" fill="none" stroke="#8e8896" stroke-opacity="0.55" stroke-width="2.4" stroke-linecap="round" stroke-linejoin="round"/>
<path d="M526.42,472.6 L527.44,473.6 M525.4,476.1 L527.44,476.1 L527.44,480.6 L525.4,482.1 M526.93,481.6 L537.64,482.1 M529.48,474.6 L537.13,474.6 M533.36,471.1 L533.05,475.6 L529.48,480.6 M533.36,475.6 L537.13,480.1 M539.62,472.1 L543.7,471.4 M538.6,474.6 L543.7,474.6 M541.15,471.4 L541.15,482.6 M541.15,475.6 L538.6,479.6 M541.15,476.1 L543.7,478.6 M545.23,472.6 L546.25,473.6 M545.23,475.6 L546.25,476.6 M544.21,479.1 L550.84,478.1 M548.8,470.6 L548.8,482.6 M554.86,471.4 L555.88,473.4 M552.31,475.1 L562,475.1 L561.49,481.6 L559.45,480.8 M557.92,470.6 L557.41,477.1 L552.82,482.1 M557.41,477.8 L558.74,479.1 M568.06,471.6 L566.02,475.6 M567.24,474.8 L576.22,474.8 M571.32,470.6 L571.32,481.6 M567.04,478.2 L575.71,478.2 M565,481.8 L577.24,481.8 M579.42,472.1 L578.4,475.6 M578.2,474.8 L583.3,474.8 M580.75,470.6 L580.75,482.6 M578.2,480.1 L583.3,477.6 M585.34,470.6 L584.32,474.6 M584.52,473.6 L590.44,473.6 L589.93,482.1 L588.4,481.4 M587.18,473.6 L584.32,480.6 M588.71,473.6 L585.85,482.1 M591.4,475.6 L595.48,475.6 M593.44,471.6 L593.44,480.6 M591.4,482.1 L595.99,479.6 M596.5,473.6 L603.64,473.6 M597.52,473.6 L597.52,478.6 L596.5,482.1 M597.52,476.6 L600.58,476.6 L600.07,479.6 M600.58,470.6 L601.19,476.6 L603.64,482.1 M602.62,471.4 L603.64,472.6 M603.64,477.6 L601.6,480.6" fill="none" stroke="#ffffff" stroke-opacity="0.85" stroke-width="1.3" stroke-linecap="round" stroke-linejoin="round"/>
</g>
</svg></body></html>
